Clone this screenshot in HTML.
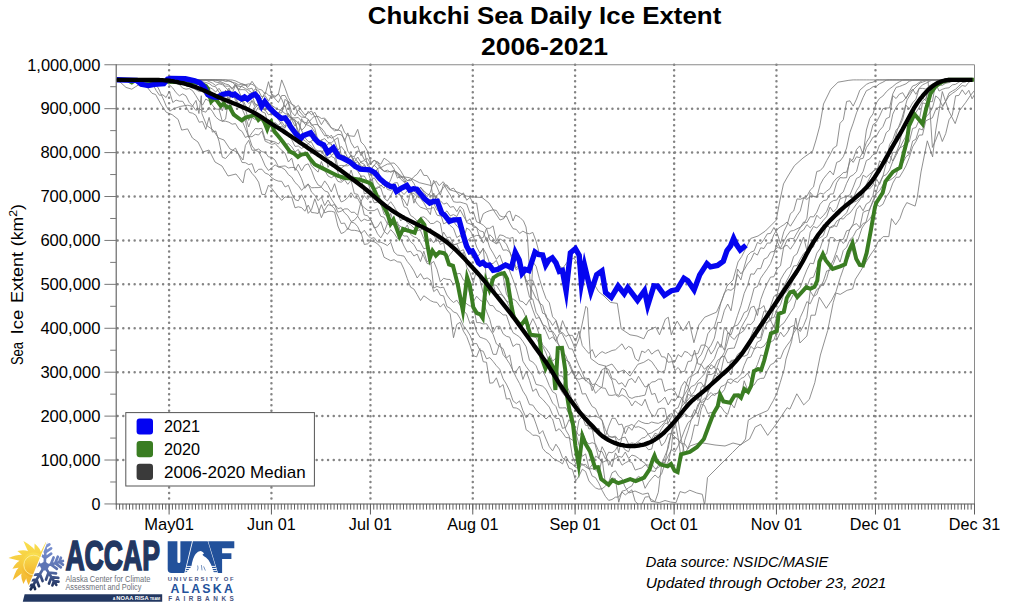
<!DOCTYPE html><html><head><meta charset="utf-8"><title>Chukchi Sea Daily Ice Extent</title>
<style>html,body{margin:0;padding:0;background:#fff}svg{display:block}text{font-family:"Liberation Sans","DejaVu Sans",sans-serif;fill:#000}</style></head><body>
<svg width="1024" height="606" viewBox="0 0 1024 606">
<rect width="1024" height="606" fill="#fff"/>
<defs><clipPath id="pc"><rect x="116.2" y="64.8" width="858.3" height="439.2"/></clipPath></defs>
<path d="M116.2 460.03 H974.5 M116.2 416.11 H974.5 M116.2 372.19 H974.5 M116.2 328.27 H974.5 M116.2 284.35 H974.5 M116.2 240.43 H974.5 M116.2 196.51 H974.5 M116.2 152.59 H974.5 M116.2 108.67 H974.5" stroke="#848484" stroke-width="2.5" stroke-linecap="round" stroke-dasharray="0.01 5.678" stroke-dashoffset="-1.4" fill="none"/>
<path d="M169.10 64.8 V503.9 M271.43 64.8 V503.9 M370.45 64.8 V503.9 M472.78 64.8 V503.9 M575.10 64.8 V503.9 M674.13 64.8 V503.9 M776.45 64.8 V503.9 M875.48 64.8 V503.9" stroke="#848484" stroke-width="2.5" stroke-linecap="round" stroke-dasharray="0.01 5.48" stroke-dashoffset="0" fill="none"/>
<g clip-path="url(#pc)" fill="none" stroke-linejoin="round">
<path d="M116.6 79.9 L120.0 82.0 L126.0 87.4 L131.8 89.2 L135.4 86.8 L140.0 84.0 L147.3 87.4 L152.0 93.3 L155.6 94.5 L161.5 105.2 L166.3 112.3 L172.2 114.7 L178.1 119.4 L181.7 130.1 L187.6 128.9 L192.4 138.0 L198.0 142.0 L203.0 152.0 L209.0 150.0 L215.0 162.0 L222.0 166.0 L228.0 176.0 L236.0 174.0 L243.0 183.0 L245.4 170.7 L248.7 168.5 L252.0 173.4 L255.3 177.0 L258.6 182.1 L261.9 194.4 L265.2 194.5 L268.5 185.1 L271.8 188.4 L275.1 192.8 L278.4 196.6 L281.7 200.4 L285.1 196.9 L288.4 197.4 L291.7 197.0 L295.0 207.8 L298.3 206.8 L301.6 207.6 L304.9 211.2 L308.2 205.1 L311.5 212.5 L314.8 212.8 L318.1 213.5 L321.4 204.7 L324.7 212.9 L328.0 211.4 L331.3 211.3 L334.6 212.1 L337.9 226.0 L341.2 233.6 L344.5 232.1 L347.8 228.4 L351.1 230.3 L354.4 230.3 L357.7 230.9 L361.0 232.2 L364.3 244.5 L367.6 243.8 L370.9 240.9 L374.2 241.8 L377.5 243.8 L380.8 247.4 L384.1 257.3 L387.4 259.0 L390.7 260.7 L394.1 259.7 L397.4 261.8 L400.7 262.2 L404.0 269.3 L407.3 278.7 L410.6 287.2 L413.9 289.0 L417.2 294.7 L420.5 300.6 L423.8 295.8 L427.1 298.1 L430.4 300.6 L433.7 302.0 L437.0 302.4 L440.3 307.1 L443.6 303.7 L446.9 309.9 L450.2 313.9 L453.5 337.7 L456.8 324.4 L460.1 322.3 L463.4 331.1 L466.7 336.5 L470.0 345.4 L473.3 355.7 L476.6 356.9 L479.9 348.5 L483.2 361.7 L486.5 362.3 L489.8 383.2 L493.1 382.8 L496.4 377.8 L499.7 387.4 L503.1 384.6 L506.4 399.1 L509.7 398.5 L513.0 407.7 L516.3 408.0 L519.6 409.7 L522.9 414.9 L526.2 429.8 L529.5 432.0 L532.8 435.3 L536.1 435.2 L539.4 436.6 L542.7 448.4 L546.0 452.3 L549.3 454.1 L552.6 457.9 L555.9 460.1 L559.2 461.5 L562.5 463.9 L565.8 456.1 L569.1 462.2 L572.4 464.0 L575.7 467.5 L579.0 468.4 L582.3 463.9 L585.6 466.9 L588.9 468.9 L592.2 464.7 L595.5 456.2 L598.8 457.9 L602.1 462.5 L605.4 461.0 L608.7 460.3 L612.0 466.9 L615.4 452.9 L618.7 458.5 L622.0 465.2 L625.3 462.9 L628.6 461.2 L631.9 462.6 L635.2 470.1 L638.5 468.9 L641.8 467.9 L645.1 464.9 L648.4 465.1 L651.7 463.7 L655.0 468.6 L658.3 467.6 L661.6 464.9 L664.9 466.7 L668.2 461.9 L671.5 448.1 L674.8 409.3 L678.1 407.7 L681.4 399.0 L684.7 394.4 L688.0 388.7 L691.3 376.6 L694.6 374.3 L697.9 372.0 L701.2 364.5 L704.5 358.9 L707.8 349.9 L711.1 345.2 L714.4 338.1 L717.7 322.4 L721.0 322.6 L724.4 310.3 L727.7 304.0 L731.0 310.8 L734.3 291.8 L737.6 269.1 L740.9 273.9 L744.2 269.8 L747.5 263.9 L750.8 260.1 L754.1 252.9 L757.4 255.1 L760.7 247.8 L764.0 248.5 L767.3 243.0 L770.6 243.1 L773.9 234.5 L777.2 229.3 L780.5 226.8 L783.8 224.8 L787.1 222.0 L790.4 226.2 L793.7 221.0 L797.0 215.5 L800.3 210.9 L803.6 197.8 L806.9 199.4 L810.2 196.4 L813.5 196.5 L816.8 197.4 L820.1 184.9 L823.4 178.8 L826.7 174.7 L830.0 170.9 L833.4 174.9 L836.7 162.4 L840.0 161.0 L843.3 156.7 L846.6 148.0 L849.9 132.4 L853.2 123.2 L856.5 112.8 L859.8 105.3 L863.1 97.4 L866.4 90.7 L869.7 89.2 L873.0 86.7 L876.3 86.3 L879.6 83.7 L882.9 82.2 L886.2 80.2 L889.5 79.9 L892.8 79.9 L896.1 79.9 L899.4 79.9 L902.7 79.9 L906.0 79.9 L909.3 79.9 L912.6 79.9 L915.9 79.9 L919.2 79.9 L922.5 79.9 L925.8 79.9 L929.1 79.9 L932.4 79.9 L935.7 79.9 L939.0 79.9 L942.3 79.9 L945.7 79.9 L949.0 79.9 L952.3 79.9 L955.6 79.9 L958.9 79.9 L962.2 79.9 L965.5 79.9 L968.8 79.9 L972.1 79.9 L975.4 79.9" stroke="#7c7c7c" stroke-width="0.85"/>
<path d="M116.6 79.9 L119.9 79.9 L123.2 79.9 L126.5 79.9 L129.8 79.9 L133.1 79.9 L136.4 79.9 L139.7 79.9 L143.0 79.9 L146.3 79.9 L149.6 81.6 L152.9 84.3 L156.2 90.5 L159.5 95.3 L162.8 94.8 L166.1 97.5 L169.4 91.3 L172.8 102.5 L176.1 100.1 L179.4 101.2 L182.7 101.3 L186.0 106.5 L189.3 112.5 L192.6 113.2 L195.9 115.3 L199.2 122.3 L202.5 121.5 L205.8 129.4 L209.1 117.4 L212.4 132.1 L215.7 131.0 L219.0 141.2 L222.3 157.2 L225.6 158.5 L228.9 154.8 L232.2 150.6 L235.5 148.1 L238.8 155.2 L242.1 162.5 L245.4 162.7 L248.7 164.6 L252.0 163.7 L255.3 172.9 L258.6 169.3 L261.9 169.2 L265.2 173.1 L268.5 174.4 L271.8 177.8 L275.1 179.9 L278.4 181.1 L281.7 181.3 L285.1 187.0 L288.4 185.3 L291.7 193.8 L295.0 199.6 L298.3 200.8 L301.6 194.8 L304.9 201.2 L308.2 213.4 L311.5 209.7 L314.8 198.8 L318.1 208.0 L321.4 217.7 L324.7 210.1 L328.0 204.7 L331.3 205.4 L334.6 208.7 L337.9 216.2 L341.2 223.6 L344.5 223.0 L347.8 229.6 L351.1 222.1 L354.4 223.0 L357.7 226.7 L361.0 233.6 L364.3 230.3 L367.6 235.1 L370.9 238.4 L374.2 237.7 L377.5 242.0 L380.8 242.2 L384.1 243.7 L387.4 245.6 L390.7 242.3 L394.1 252.1 L397.4 255.0 L400.7 255.5 L404.0 256.1 L407.3 261.5 L410.6 265.6 L413.9 270.9 L417.2 278.0 L420.5 273.6 L423.8 279.1 L427.1 277.9 L430.4 280.0 L433.7 291.6 L437.0 289.0 L440.3 295.2 L443.6 295.9 L446.9 306.5 L450.2 308.3 L453.5 312.0 L456.8 313.1 L460.1 318.4 L463.4 325.8 L466.7 329.8 L470.0 335.3 L473.3 343.8 L476.6 343.5 L479.9 350.3 L483.2 351.2 L486.5 358.8 L489.8 357.6 L493.1 361.4 L496.4 365.7 L499.7 369.2 L503.1 378.8 L506.4 384.1 L509.7 391.0 L513.0 400.8 L516.3 403.5 L519.6 400.9 L522.9 410.6 L526.2 417.7 L529.5 413.4 L532.8 415.1 L536.1 424.1 L539.4 434.0 L542.7 430.6 L546.0 439.0 L549.3 446.6 L552.6 450.9 L555.9 444.2 L559.2 449.0 L562.5 457.7 L565.8 460.4 L569.1 468.3 L572.4 469.4 L575.7 481.0 L579.0 476.0 L582.3 469.2 L585.6 471.5 L588.9 480.9 L592.2 484.8 L595.5 487.9 L598.8 489.2 L602.1 488.7 L605.4 486.2 L608.7 482.1 L612.0 472.8 L615.4 470.8 L618.7 476.2 L622.0 478.6 L624.6 486.0 L628.8 493.0 L635.0 491.0 L642.7 494.3 L648.2 493.0 L651.0 501.3 L659.3 502.7 L665.0 500.5 L670.4 502.0 L676.0 502.7 L680.0 491.6 L685.0 493.0 L689.8 490.2 L696.8 493.0 L702.3 494.3 L704.4 504.0 L705.0 502.0 L707.5 477.5 L715.0 470.0 L725.0 460.0 L732.5 452.5 L740.0 445.0 L749.6 439.0 L755.2 427.1 L760.7 424.3 L767.7 435.4 L776.0 424.3 L787.1 407.7 L789.9 409.1 L796.8 393.8 L803.7 404.9 L809.3 399.4 L814.8 382.7 L820.4 355.0 L827.7 330.5 L833.2 302.7 L836.0 293.0 L840.2 294.4 L847.1 290.3 L852.6 288.9 L855.4 279.2 L860.0 272.0 L866.0 262.0 L871.0 254.0 L875.6 247.7 L877.7 242.2 L883.2 236.6 L888.8 236.6 L891.5 218.6 L895.7 224.8 L899.9 218.6 L903.3 208.9 L906.8 202.6 L915.1 206.1 L917.2 197.8 L921.0 172.0 L927.3 140.8 L932.6 156.9 L935.8 130.1 L942.3 91.5 L944.4 97.9 L948.7 110.8 L955.2 123.6 L959.4 110.8 L965.9 102.2 L970.2 95.8 L974.5 90.4" stroke="#7c7c7c" stroke-width="0.85"/>
<path d="M116.6 79.9 L119.9 79.9 L123.2 79.9 L126.5 79.9 L129.8 79.9 L133.1 79.9 L136.4 79.9 L139.7 79.9 L143.0 79.9 L146.3 79.9 L150.0 80.0 L158.0 87.4 L163.9 100.4 L166.3 106.4 L169.8 111.1 L173.4 108.8 L180.5 106.4 L187.6 105.2 L192.4 106.4 L196.0 100.4 L198.9 113.5 L201.3 95.7 L201.9 113.5 L206.6 125.4 L213.0 130.0 L218.5 138.0 L224.0 140.0 L230.0 149.0 L237.0 152.0 L243.0 160.0 L245.4 145.4 L248.7 140.3 L252.0 150.2 L255.3 150.3 L258.6 151.7 L261.9 158.1 L265.2 165.9 L268.5 170.5 L271.8 167.7 L275.1 164.9 L278.4 167.1 L281.7 167.6 L285.1 169.8 L288.4 174.6 L291.7 177.2 L295.0 182.5 L298.3 185.5 L301.6 190.4 L304.9 186.6 L308.2 183.9 L311.5 192.1 L314.8 195.2 L318.1 200.7 L321.4 197.1 L324.7 205.6 L328.0 200.0 L331.3 205.7 L334.6 204.5 L337.9 212.2 L341.2 211.2 L344.5 208.9 L347.8 208.9 L351.1 212.4 L354.4 212.2 L357.7 215.5 L361.0 201.4 L364.3 215.0 L367.6 215.7 L370.9 220.1 L374.2 228.0 L377.5 226.8 L380.8 221.6 L384.1 231.1 L387.4 234.3 L390.7 229.6 L394.1 233.3 L397.4 238.4 L400.7 238.7 L404.0 246.1 L407.3 252.1 L410.6 251.3 L413.9 256.0 L417.2 254.1 L420.5 261.6 L423.8 251.2 L427.1 262.1 L430.4 258.5 L433.7 288.1 L437.0 286.4 L440.3 287.7 L443.6 287.2 L446.9 295.0 L450.2 299.5 L453.5 302.5 L456.8 300.2 L460.1 305.1 L463.4 310.4 L466.7 314.1 L470.0 323.7 L473.3 320.0 L476.6 331.7 L479.9 337.2 L483.2 338.3 L486.5 339.6 L489.8 344.0 L493.1 354.3 L496.4 354.4 L499.7 343.0 L503.1 354.5 L506.4 358.8 L509.7 363.9 L513.0 370.7 L516.3 377.6 L519.6 383.6 L522.9 391.1 L526.2 396.2 L529.5 404.6 L532.8 405.1 L536.1 409.9 L539.4 413.5 L542.7 415.5 L546.0 419.0 L549.3 415.9 L552.6 419.0 L555.9 431.1 L559.2 428.7 L562.5 432.7 L565.8 437.5 L569.1 437.8 L572.4 440.1 L575.7 438.7 L579.0 420.1 L582.3 416.3 L585.6 425.4 L588.9 425.6 L592.2 430.1 L595.5 432.1 L598.8 428.1 L602.1 438.4 L605.4 437.5 L608.7 436.7 L612.0 437.0 L615.4 436.1 L618.7 440.2 L622.0 437.8 L625.3 437.1 L628.6 444.1 L631.9 442.9 L635.2 443.7 L638.5 441.2 L641.8 438.2 L645.1 437.3 L648.4 433.8 L651.7 432.9 L655.0 430.5 L658.3 429.0 L661.6 425.5 L664.9 421.9 L668.2 415.7 L671.5 413.4 L674.8 419.4 L678.1 415.5 L681.4 406.9 L684.7 402.9 L688.0 391.9 L691.3 386.5 L694.6 385.2 L697.9 381.0 L701.2 377.6 L704.5 373.8 L707.8 366.2 L711.1 363.1 L714.4 358.6 L717.7 349.2 L721.0 344.2 L724.4 350.3 L727.7 332.7 L731.0 334.8 L734.3 325.7 L737.6 315.3 L740.9 305.7 L744.2 293.3 L747.5 285.6 L750.8 273.9 L754.1 274.2 L757.4 268.6 L760.7 268.7 L764.0 259.2 L767.3 257.5 L770.6 252.1 L773.9 251.4 L777.2 247.6 L780.5 248.1 L783.8 241.3 L787.1 235.5 L790.4 231.1 L793.7 230.5 L797.0 228.8 L800.3 227.1 L803.6 224.4 L806.9 218.2 L810.2 192.3 L813.5 196.3 L816.8 196.5 L820.1 193.1 L823.4 194.0 L826.7 191.1 L830.0 188.6 L833.4 182.0 L836.7 178.2 L840.0 176.0 L843.3 172.6 L846.6 172.2 L849.9 161.6 L853.2 159.1 L856.5 149.5 L859.8 145.9 L863.1 154.0 L866.4 130.0 L869.7 118.6 L873.0 113.8 L876.3 103.0 L879.6 98.3 L882.9 96.0 L886.2 91.9 L889.5 88.9 L892.8 86.5 L896.1 83.7 L899.4 81.8 L902.7 80.1 L906.0 79.9 L909.3 79.9 L912.6 79.9 L915.9 79.9 L919.2 79.9 L922.5 79.9 L925.8 79.9 L929.1 79.9 L932.4 79.9 L935.7 79.9 L939.0 79.9 L942.3 79.9 L945.7 79.9 L949.0 79.9 L952.3 79.9 L955.6 79.9 L958.9 79.9 L962.2 79.9 L965.5 79.9 L968.8 79.9 L972.1 79.9 L975.4 79.9" stroke="#7c7c7c" stroke-width="0.85"/>
<path d="M116.6 79.9 L119.9 79.9 L123.2 79.9 L126.5 79.9 L129.8 79.9 L133.1 79.9 L136.4 79.9 L139.7 79.9 L143.0 79.9 L146.3 79.9 L149.6 79.9 L152.9 79.9 L156.2 79.9 L159.5 79.9 L162.8 79.9 L166.1 81.6 L169.4 84.8 L172.8 88.0 L176.1 92.7 L179.4 95.8 L182.7 93.9 L186.0 95.9 L189.3 102.5 L192.6 105.9 L195.9 110.4 L199.2 108.5 L202.5 111.1 L205.8 112.2 L209.1 107.2 L212.4 111.4 L215.7 117.0 L219.0 119.8 L222.3 121.2 L225.6 121.2 L228.9 122.2 L232.2 124.2 L235.5 123.6 L238.8 129.2 L242.1 131.5 L245.4 137.5 L248.7 135.8 L252.0 146.0 L255.3 150.1 L258.6 149.0 L261.9 151.7 L265.2 152.4 L268.5 156.9 L271.8 157.3 L275.1 160.1 L278.4 166.7 L281.7 166.3 L285.1 165.9 L288.4 168.0 L291.7 167.4 L295.0 167.6 L298.3 171.9 L301.6 178.8 L304.9 188.3 L308.2 184.4 L311.5 187.8 L314.8 187.6 L318.1 187.6 L321.4 187.2 L324.7 190.9 L328.0 192.1 L331.3 199.0 L334.6 204.0 L337.9 208.6 L341.2 207.8 L344.5 212.8 L347.8 215.8 L351.1 221.5 L354.4 220.1 L357.7 216.2 L361.0 221.4 L364.3 219.2 L367.6 220.5 L370.9 220.0 L374.2 226.6 L377.5 233.8 L380.8 237.9 L384.1 232.2 L387.4 223.6 L390.7 213.4 L394.1 223.5 L397.4 221.9 L400.7 233.1 L404.0 236.1 L407.3 236.0 L410.6 241.8 L413.9 244.6 L417.2 250.6 L420.5 251.1 L423.8 256.4 L427.1 263.5 L430.4 264.1 L433.7 261.4 L437.0 269.4 L440.3 281.8 L443.6 278.3 L446.9 279.3 L450.2 279.5 L453.5 284.6 L456.8 281.4 L460.1 294.6 L463.4 300.1 L466.7 303.9 L470.0 306.1 L473.3 305.7 L476.6 322.6 L479.9 322.6 L483.2 324.0 L486.5 323.7 L489.8 328.9 L493.1 334.4 L496.4 343.9 L499.7 346.5 L503.1 348.7 L506.4 358.0 L509.7 355.1 L513.0 372.1 L516.3 371.1 L519.6 366.0 L522.9 379.4 L526.2 371.1 L529.5 380.3 L532.8 391.4 L536.1 388.8 L539.4 396.4 L542.7 399.4 L546.0 403.2 L549.3 407.1 L552.6 414.7 L555.9 418.4 L559.2 418.5 L562.5 428.4 L565.8 427.3 L569.1 419.7 L572.4 424.5 L575.7 430.6 L579.0 435.8 L582.3 431.8 L585.6 440.9 L588.9 443.9 L592.2 442.7 L595.5 444.0 L598.8 451.4 L602.1 451.6 L605.4 458.9 L608.7 452.2 L612.0 452.8 L615.4 450.3 L618.7 444.1 L622.0 445.8 L625.3 450.0 L628.6 451.8 L631.9 443.4 L635.2 445.5 L638.5 442.6 L641.8 443.4 L645.1 445.6 L648.4 449.7 L651.7 449.1 L655.0 435.4 L658.3 435.9 L661.6 445.9 L664.9 442.1 L668.2 434.2 L671.5 433.3 L674.8 437.0 L678.1 439.6 L681.4 443.7 L684.7 443.8 L688.0 448.9 L690.0 446.0 L700.0 442.5 L715.0 445.0 L725.0 446.0 L733.0 443.0 L741.0 445.0 L745.5 439.0 L748.3 420.2 L755.2 416.0 L767.7 410.5 L773.2 400.8 L776.7 393.8 L780.2 382.7 L784.3 368.9 L786.0 359.0 L791.6 341.6 L795.8 318.0 L799.9 343.0 L806.9 336.0 L811.0 315.2 L815.2 315.2 L819.3 297.2 L826.3 308.3 L831.8 300.0 L836.0 291.6 L840.2 277.8 L845.0 264.0 L849.0 257.0 L853.0 246.0 L858.0 240.0 L862.0 228.0 L866.0 222.0 L870.0 208.0 L874.0 200.0 L878.0 186.0 L883.0 176.0 L887.0 160.0 L892.0 150.0 L897.0 131.0 L902.0 118.0 L907.0 100.0 L913.0 90.0 L920.0 83.0 L928.0 80.2 L932.4 147.4 L935.7 140.2 L939.0 131.3 L942.3 141.5 L945.7 133.7 L949.0 119.8 L952.3 115.0 L955.6 95.8 L958.9 95.4 L962.2 89.8 L965.5 94.6 L968.8 90.3 L972.1 98.8 L975.4 93.0" stroke="#7c7c7c" stroke-width="0.85"/>
<path d="M116.6 79.9 L119.9 79.9 L123.2 79.9 L126.5 79.9 L129.8 79.9 L133.1 79.9 L136.4 79.9 L139.7 79.9 L143.0 79.9 L146.3 79.9 L149.6 79.9 L152.9 79.9 L156.2 79.9 L159.5 79.9 L162.8 79.9 L166.1 79.9 L169.4 79.9 L172.8 80.6 L176.1 83.1 L179.4 84.6 L182.7 88.1 L186.0 89.2 L189.3 88.6 L192.6 90.7 L195.9 95.7 L199.2 101.1 L202.5 105.1 L205.8 99.0 L209.1 101.1 L212.4 105.2 L215.7 109.0 L219.0 109.3 L222.3 121.4 L225.6 119.1 L228.9 96.9 L232.2 108.6 L235.5 116.9 L238.8 118.9 L242.1 120.7 L245.4 128.7 L248.7 136.7 L252.0 136.7 L255.3 134.3 L258.6 135.0 L261.9 131.1 L265.2 141.2 L268.5 142.7 L271.8 144.4 L275.1 143.4 L278.4 147.1 L281.7 150.2 L285.1 153.2 L288.4 162.0 L291.7 158.1 L295.0 170.5 L298.3 164.2 L301.6 170.8 L304.9 165.2 L308.2 163.8 L311.5 170.3 L314.8 179.3 L318.1 185.0 L321.4 186.7 L324.7 180.9 L328.0 185.5 L331.3 191.9 L334.6 183.7 L337.9 194.9 L341.2 202.0 L344.5 200.5 L347.8 197.5 L351.1 192.7 L354.4 197.6 L357.7 198.4 L361.0 204.8 L364.3 207.6 L367.6 210.3 L370.9 210.7 L374.2 210.6 L377.5 208.6 L380.8 216.3 L384.1 217.3 L387.4 223.9 L390.7 225.9 L394.1 223.3 L397.4 229.5 L400.7 226.1 L404.0 230.0 L407.3 224.9 L410.6 234.4 L413.9 236.9 L417.2 238.1 L420.5 242.4 L423.8 248.7 L427.1 248.0 L430.4 250.2 L433.7 253.6 L437.0 252.4 L440.3 252.9 L443.6 254.1 L446.9 257.4 L450.2 266.2 L453.5 268.6 L456.8 273.9 L460.1 273.4 L463.4 280.1 L466.7 282.3 L470.0 294.9 L473.3 301.8 L476.6 296.2 L479.9 299.9 L483.2 302.1 L486.5 311.3 L489.8 319.4 L493.1 332.5 L496.4 326.4 L499.7 326.2 L503.1 333.8 L506.4 336.3 L509.7 337.2 L513.0 346.5 L516.3 344.1 L519.6 344.5 L522.9 361.2 L526.2 366.6 L529.5 371.1 L532.8 375.4 L536.1 384.4 L539.4 385.2 L542.7 386.2 L546.0 389.4 L549.3 395.7 L552.6 403.1 L555.9 406.4 L559.2 415.6 L562.5 416.9 L565.8 430.0 L569.1 435.7 L572.4 456.1 L575.7 463.9 L579.0 460.2 L582.3 465.2 L585.6 464.3 L588.9 469.0 L592.2 468.6 L595.5 469.8 L598.8 473.5 L602.1 458.7 L605.4 483.5 L608.7 482.9 L612.0 477.9 L615.4 478.7 L618.7 502.2 L622.0 491.2 L625.3 490.3 L628.6 487.7 L631.9 485.9 L635.2 479.4 L638.5 476.4 L641.8 478.1 L645.1 488.3 L648.4 482.7 L651.7 478.5 L655.0 475.0 L658.3 477.9 L661.6 473.8 L664.9 463.6 L668.2 444.6 L671.5 432.6 L674.8 423.4 L678.1 420.0 L681.4 440.4 L684.7 454.1 L688.0 448.2 L691.3 439.7 L694.6 424.9 L697.9 425.7 L701.2 409.2 L704.5 401.1 L707.8 393.0 L711.1 385.0 L714.4 376.5 L717.7 365.7 L721.0 356.8 L724.4 356.5 L727.7 348.9 L731.0 348.3 L734.3 348.1 L737.6 338.8 L740.9 328.1 L744.2 322.0 L747.5 316.4 L750.8 307.5 L754.1 306.2 L757.4 315.5 L760.7 299.7 L764.0 290.5 L767.3 283.2 L770.6 277.1 L773.9 276.7 L777.2 268.8 L780.5 265.8 L783.8 246.4 L787.1 245.2 L790.4 249.2 L793.7 244.3 L797.0 238.8 L800.3 232.1 L803.6 230.0 L806.9 224.6 L810.2 227.8 L813.5 224.1 L816.8 215.2 L820.1 218.7 L823.4 215.6 L826.7 211.3 L830.0 202.8 L833.4 200.6 L836.7 200.1 L840.0 194.6 L843.3 191.9 L846.6 183.3 L849.9 176.7 L853.2 174.9 L856.5 171.6 L859.8 159.0 L863.1 158.3 L866.4 147.6 L869.7 142.8 L873.0 137.2 L876.3 136.3 L879.6 130.3 L882.9 126.7 L886.2 118.6 L889.5 117.2 L892.8 95.7 L896.1 98.5 L899.4 94.1 L902.7 92.7 L906.0 98.5 L909.3 91.6 L912.6 86.0 L915.9 84.8 L919.2 82.5 L922.5 80.6 L925.8 79.9 L929.1 79.9 L932.4 79.9 L935.7 79.9 L939.0 79.9 L942.3 79.9 L945.7 79.9 L949.0 79.9 L952.3 79.9 L955.6 79.9 L958.9 79.9 L962.2 79.9 L965.5 79.9 L968.8 79.9 L972.1 79.9 L975.4 79.9" stroke="#7c7c7c" stroke-width="0.85"/>
<path d="M116.6 79.9 L119.9 79.9 L123.2 79.9 L126.5 79.9 L129.8 79.9 L133.1 79.9 L136.4 79.9 L139.7 79.9 L143.0 79.9 L146.3 79.9 L149.6 79.9 L152.9 79.9 L156.2 79.9 L159.5 79.9 L162.8 79.9 L166.1 79.9 L169.4 79.9 L172.8 79.9 L176.1 79.9 L179.4 80.3 L182.7 83.3 L186.0 85.5 L189.3 84.8 L192.6 88.0 L195.9 89.7 L199.2 91.6 L202.5 91.1 L205.8 95.5 L209.1 94.4 L212.4 99.1 L215.7 101.4 L219.0 96.8 L222.3 102.1 L225.6 90.0 L228.9 103.3 L232.2 110.1 L235.5 114.1 L238.8 118.5 L242.1 121.9 L245.4 120.4 L248.7 137.4 L252.0 132.8 L255.3 128.5 L258.6 128.8 L261.9 128.3 L265.2 139.4 L268.5 140.2 L271.8 141.3 L275.1 142.0 L278.4 144.0 L281.7 139.6 L285.1 144.8 L288.4 143.7 L291.7 146.7 L295.0 151.9 L298.3 149.5 L301.6 156.7 L304.9 152.6 L308.2 157.2 L311.5 165.8 L314.8 169.0 L318.1 172.1 L321.4 161.5 L324.7 170.5 L328.0 176.0 L331.3 177.7 L334.6 175.8 L337.9 181.4 L341.2 182.3 L344.5 179.8 L347.8 184.3 L351.1 180.3 L354.4 193.6 L357.7 194.4 L361.0 201.4 L364.3 195.6 L367.6 199.5 L370.9 194.5 L374.2 202.8 L377.5 202.3 L380.8 204.0 L384.1 214.2 L387.4 216.2 L390.7 218.1 L394.1 226.4 L397.4 224.3 L400.7 226.4 L404.0 231.1 L407.3 232.1 L410.6 230.1 L413.9 231.5 L417.2 226.4 L420.5 230.5 L423.8 238.7 L427.1 241.4 L430.4 238.1 L433.7 243.0 L437.0 236.8 L440.3 244.5 L443.6 242.6 L446.9 258.6 L450.2 254.4 L453.5 250.2 L456.8 248.5 L460.1 255.4 L463.4 252.3 L466.7 267.0 L470.0 272.7 L473.3 282.9 L476.6 269.6 L479.9 279.4 L483.2 293.1 L486.5 299.5 L489.8 305.4 L493.1 305.7 L496.4 310.4 L499.7 311.8 L503.1 314.9 L506.4 315.0 L509.7 325.1 L513.0 332.7 L516.3 334.8 L519.6 337.0 L522.9 341.4 L526.2 346.8 L529.5 360.4 L532.8 362.0 L536.1 365.8 L539.4 374.1 L542.7 371.0 L546.0 377.3 L549.3 385.7 L552.6 391.8 L555.9 393.8 L559.2 407.9 L562.5 407.9 L565.8 407.8 L569.1 413.9 L572.4 412.7 L575.7 432.2 L579.0 445.0 L582.3 456.3 L585.6 453.9 L588.9 467.7 L592.2 476.1 L595.5 477.6 L598.8 483.1 L602.1 490.3 L605.4 496.4 L608.7 500.4 L612.0 499.5 L615.4 497.2 L618.7 497.0 L622.0 492.1 L625.3 494.9 L628.6 492.3 L631.9 489.8 L635.2 501.4 L638.5 504.4 L641.8 504.4 L645.1 497.1 L648.4 496.7 L651.7 499.6 L655.0 501.7 L658.3 492.3 L661.6 464.6 L664.9 455.8 L668.2 448.3 L671.5 431.5 L674.8 420.3 L678.1 437.4 L681.4 460.6 L684.7 440.4 L688.0 430.5 L691.3 419.5 L694.6 413.8 L697.9 407.4 L701.2 397.9 L704.5 385.6 L707.8 370.4 L711.1 364.7 L714.4 367.4 L717.7 360.2 L721.0 358.1 L724.4 352.3 L727.7 341.2 L731.0 328.7 L734.3 326.2 L737.6 325.1 L740.9 319.9 L744.2 312.6 L747.5 310.8 L750.8 300.6 L754.1 288.1 L757.4 286.6 L760.7 278.2 L764.0 273.4 L767.3 268.8 L770.6 263.5 L773.9 254.4 L777.2 241.5 L780.5 249.1 L783.8 247.5 L787.1 239.8 L790.4 238.4 L793.7 238.7 L797.0 232.9 L800.3 227.6 L803.6 222.0 L806.9 222.5 L810.2 216.7 L813.5 216.9 L816.8 212.2 L820.1 204.2 L823.4 200.6 L826.7 200.0 L830.0 194.2 L833.4 193.8 L836.7 182.6 L840.0 177.6 L843.3 177.9 L846.6 177.7 L849.9 158.3 L853.2 162.4 L856.5 156.8 L859.8 157.7 L863.1 151.8 L866.4 142.3 L869.7 137.0 L873.0 124.7 L876.3 122.3 L879.6 116.1 L882.9 108.7 L886.2 108.0 L889.5 107.9 L892.8 93.8 L896.1 87.4 L899.4 86.5 L902.7 85.2 L906.0 83.8 L909.3 81.2 L912.6 80.3 L915.9 79.9 L919.2 79.9 L922.5 79.9 L925.8 79.9 L929.1 79.9 L932.4 79.9 L935.7 79.9 L939.0 79.9 L942.3 79.9 L945.7 79.9 L949.0 79.9 L952.3 79.9 L955.6 79.9 L958.9 79.9 L962.2 79.9 L965.5 79.9 L968.8 79.9 L972.1 79.9 L975.4 79.9" stroke="#7c7c7c" stroke-width="0.85"/>
<path d="M116.6 79.9 L119.9 79.9 L123.2 79.9 L126.5 79.9 L129.8 79.9 L133.1 79.9 L136.4 79.9 L139.7 79.9 L143.0 79.9 L146.3 79.9 L149.6 79.9 L152.9 79.9 L156.2 79.9 L159.5 79.9 L162.8 79.9 L166.1 79.9 L169.4 79.9 L172.8 79.9 L176.1 79.9 L179.4 79.9 L182.7 79.9 L186.0 79.9 L189.3 81.5 L192.6 84.4 L195.9 87.4 L199.2 90.5 L202.5 89.3 L205.8 95.3 L209.1 99.2 L212.4 98.0 L215.7 97.0 L219.0 102.5 L222.3 110.8 L225.6 100.8 L228.9 100.6 L232.2 93.3 L235.5 100.3 L238.8 106.2 L242.1 108.9 L245.4 116.2 L248.7 127.0 L252.0 117.5 L255.3 119.7 L258.6 114.6 L261.9 121.8 L265.2 124.7 L268.5 124.3 L271.8 127.4 L275.1 124.2 L278.4 127.5 L281.7 126.0 L285.1 129.9 L288.4 133.8 L291.7 139.6 L295.0 146.4 L298.3 146.0 L301.6 148.5 L304.9 146.3 L308.2 143.7 L311.5 146.4 L314.8 150.7 L318.1 150.9 L321.4 150.8 L324.7 155.8 L328.0 158.2 L331.3 156.4 L334.6 158.1 L337.9 172.3 L341.2 180.5 L344.5 178.4 L347.8 179.8 L351.1 170.1 L354.4 180.9 L357.7 180.8 L361.0 175.8 L364.3 193.8 L367.6 192.8 L370.9 195.2 L374.2 194.4 L377.5 197.1 L380.8 204.5 L384.1 203.1 L387.4 205.7 L390.7 201.7 L394.1 206.5 L397.4 212.5 L400.7 221.0 L404.0 217.4 L407.3 222.8 L410.6 224.7 L413.9 227.9 L417.2 230.5 L420.5 230.0 L423.8 228.8 L427.1 231.6 L430.4 228.1 L433.7 235.1 L437.0 240.3 L440.3 242.1 L443.6 232.1 L446.9 237.5 L450.2 237.2 L453.5 244.9 L456.8 244.1 L460.1 251.3 L463.4 249.7 L466.7 258.4 L470.0 264.2 L473.3 271.0 L476.6 274.9 L479.9 275.4 L483.2 280.0 L486.5 281.3 L489.8 288.6 L493.1 284.1 L496.4 295.4 L499.7 294.2 L503.1 295.6 L506.4 300.6 L509.7 307.8 L513.0 317.4 L516.3 320.5 L519.6 325.7 L522.9 329.9 L526.2 331.6 L529.5 342.1 L532.8 344.1 L536.1 345.2 L539.4 349.8 L542.7 357.6 L546.0 362.0 L549.3 364.9 L552.6 375.8 L555.9 381.2 L559.2 387.4 L562.5 392.9 L565.8 397.0 L569.1 400.6 L572.4 402.0 L575.7 403.3 L579.0 410.5 L582.3 412.5 L585.6 415.1 L588.9 416.8 L592.2 416.5 L595.5 416.2 L598.8 417.5 L602.1 420.5 L605.4 436.7 L608.7 426.2 L612.0 418.2 L615.4 418.4 L618.7 424.8 L622.0 424.1 L625.3 433.8 L628.6 426.8 L631.9 430.3 L635.2 424.5 L638.5 420.5 L641.8 422.3 L645.1 423.4 L648.4 423.6 L651.7 422.0 L655.0 422.9 L658.3 423.4 L661.6 421.8 L664.9 420.6 L668.2 417.5 L671.5 424.6 L674.8 422.5 L678.1 420.0 L681.4 416.1 L684.7 409.5 L688.0 394.2 L691.3 396.1 L694.6 395.2 L697.9 400.7 L701.2 387.3 L704.5 384.8 L707.8 392.3 L711.1 383.4 L714.4 375.1 L717.7 376.7 L721.0 374.3 L724.4 371.5 L727.7 369.5 L731.0 374.9 L734.3 360.7 L737.6 354.4 L740.9 351.9 L744.2 349.9 L747.5 346.9 L750.8 336.7 L754.1 328.3 L757.4 327.0 L760.7 323.0 L764.0 311.0 L767.3 311.1 L770.6 321.0 L773.9 308.6 L777.2 294.6 L780.5 292.6 L783.8 286.6 L787.1 280.0 L790.4 273.8 L793.7 265.9 L797.0 265.6 L800.3 259.1 L803.6 253.6 L806.9 250.8 L810.2 249.2 L813.5 247.0 L816.8 234.7 L820.1 232.9 L823.4 224.7 L826.7 226.8 L830.0 222.7 L833.4 219.0 L836.7 216.4 L840.0 214.0 L843.3 207.1 L846.6 196.4 L849.9 196.9 L853.2 198.1 L856.5 190.7 L859.8 185.8 L863.1 175.2 L866.4 177.3 L869.7 174.2 L873.0 171.6 L876.3 168.8 L879.6 168.4 L882.9 164.6 L886.2 163.2 L889.5 144.6 L892.8 139.7 L896.1 130.1 L899.4 126.7 L902.7 119.3 L906.0 105.2 L909.3 108.9 L912.6 102.8 L915.9 99.2 L919.2 88.4 L922.5 88.4 L925.8 89.0 L929.1 86.2 L932.4 84.0 L935.7 82.7 L939.0 81.9 L942.3 80.6 L945.7 79.9 L949.0 79.9 L952.3 79.9 L955.6 79.9 L958.9 79.9 L962.2 79.9 L965.5 79.9 L968.8 79.9 L972.1 79.9 L975.4 79.9" stroke="#7c7c7c" stroke-width="0.85"/>
<path d="M116.6 79.9 L119.9 79.9 L123.2 79.9 L126.5 79.9 L129.8 79.9 L133.1 79.9 L136.4 79.9 L139.7 79.9 L143.0 79.9 L146.3 79.9 L149.6 79.9 L152.9 79.9 L156.2 79.9 L159.5 79.9 L162.8 79.9 L166.1 79.9 L169.4 79.9 L172.8 79.9 L176.1 79.9 L179.4 79.9 L182.7 79.9 L186.0 79.9 L189.3 79.9 L192.6 79.9 L195.9 81.2 L199.2 81.8 L202.5 84.2 L205.8 86.8 L209.1 87.3 L212.4 89.0 L215.7 92.0 L219.0 88.3 L222.3 93.4 L225.6 95.1 L228.9 90.1 L232.2 95.9 L235.5 98.1 L238.8 104.3 L242.1 100.4 L245.4 109.3 L248.7 120.4 L252.0 114.3 L255.3 112.0 L258.6 106.8 L261.9 106.8 L265.2 110.1 L268.5 114.8 L271.8 113.6 L275.1 114.1 L278.4 119.8 L281.7 124.4 L285.1 128.1 L288.4 113.4 L291.7 119.5 L295.0 126.2 L298.3 121.5 L301.6 130.4 L304.9 137.7 L308.2 141.5 L311.5 142.2 L314.8 148.7 L318.1 151.4 L321.4 151.8 L324.7 150.1 L328.0 167.4 L331.3 161.3 L334.6 164.4 L337.9 166.1 L341.2 165.4 L344.5 165.8 L347.8 165.8 L351.1 163.5 L354.4 167.1 L357.7 171.2 L361.0 176.2 L364.3 176.0 L367.6 181.7 L370.9 191.7 L374.2 191.1 L377.5 186.8 L380.8 188.0 L384.1 198.0 L387.4 201.0 L390.7 195.9 L394.1 188.6 L397.4 193.6 L400.7 195.5 L404.0 206.6 L407.3 208.2 L410.6 215.5 L413.9 217.6 L417.2 221.2 L420.5 217.4 L423.8 216.8 L427.1 219.5 L430.4 223.6 L433.7 223.4 L437.0 220.9 L440.3 223.1 L443.6 240.6 L446.9 238.3 L450.2 241.6 L453.5 245.0 L456.8 243.8 L460.1 242.6 L463.4 241.5 L466.7 245.5 L470.0 253.2 L473.3 257.9 L476.6 257.4 L479.9 253.9 L483.2 248.2 L486.5 279.0 L489.8 278.0 L493.1 284.9 L496.4 285.3 L499.7 290.7 L503.1 296.5 L506.4 301.2 L509.7 302.4 L513.0 310.3 L516.3 318.5 L519.6 324.2 L522.9 329.5 L526.2 334.9 L529.5 336.7 L532.8 336.8 L536.1 337.4 L539.4 344.8 L542.7 346.3 L546.0 353.0 L549.3 362.6 L552.6 363.6 L555.9 368.0 L559.2 375.7 L562.5 376.2 L565.8 383.4 L569.1 390.9 L572.4 401.3 L575.7 400.9 L579.0 407.2 L582.3 415.9 L585.6 419.1 L588.9 429.0 L592.2 428.4 L595.5 446.0 L598.8 458.5 L602.1 446.7 L605.4 453.0 L608.7 465.3 L612.0 459.8 L615.4 458.7 L618.7 456.3 L622.0 457.3 L625.3 452.0 L628.6 458.4 L631.9 455.1 L635.2 456.0 L638.5 458.3 L641.8 461.1 L645.1 463.3 L648.4 468.3 L651.7 470.9 L655.0 471.5 L658.3 465.3 L661.6 462.3 L664.9 462.4 L668.2 455.9 L671.5 449.4 L674.8 452.1 L678.1 445.9 L681.4 438.5 L684.7 429.9 L688.0 422.7 L691.3 419.7 L694.6 414.7 L697.9 404.4 L701.2 401.4 L704.5 398.2 L707.8 399.7 L711.1 395.8 L714.4 393.8 L717.7 393.3 L721.0 386.6 L724.4 385.2 L727.7 381.8 L731.0 383.7 L734.3 379.5 L737.6 377.8 L740.9 374.6 L744.2 365.3 L747.5 357.8 L750.8 357.1 L754.1 349.6 L757.4 342.0 L760.7 340.4 L764.0 329.4 L767.3 322.6 L770.6 320.2 L773.9 327.4 L777.2 313.7 L780.5 314.6 L783.8 307.3 L787.1 303.8 L790.4 300.2 L793.7 293.7 L797.0 290.9 L800.3 287.4 L803.6 278.1 L806.9 269.8 L810.2 263.1 L813.5 263.8 L816.8 253.2 L820.1 248.5 L823.4 238.8 L826.7 236.8 L830.0 227.4 L833.4 225.4 L836.7 226.7 L840.0 218.4 L843.3 219.1 L846.6 215.3 L849.9 213.1 L853.2 208.7 L856.5 204.0 L859.8 200.0 L863.1 191.6 L866.4 188.6 L869.7 188.9 L873.0 185.0 L876.3 173.6 L879.6 160.8 L882.9 163.5 L886.2 159.9 L889.5 163.4 L892.8 152.3 L896.1 152.3 L899.4 148.9 L902.7 142.1 L906.0 136.1 L909.3 124.4 L912.6 117.1 L915.9 112.6 L919.2 107.3 L922.5 101.1 L925.8 98.5 L929.1 87.9 L932.4 86.3 L935.7 84.1 L939.0 85.9 L942.3 82.9 L945.7 83.2 L949.0 82.6 L952.3 81.3 L955.6 79.9 L958.9 79.9 L962.2 79.9 L965.5 79.9 L968.8 79.9 L972.1 79.9 L975.4 79.9" stroke="#7c7c7c" stroke-width="0.85"/>
<path d="M116.6 79.9 L119.9 79.9 L123.2 79.9 L126.5 79.9 L129.8 79.9 L133.1 79.9 L136.4 79.9 L139.7 79.9 L143.0 79.9 L146.3 79.9 L149.6 79.9 L152.9 79.9 L156.2 79.9 L159.5 79.9 L162.8 79.9 L166.1 79.9 L169.4 79.9 L172.8 79.9 L176.1 79.9 L179.4 79.9 L182.7 79.9 L186.0 79.9 L189.3 79.9 L192.6 79.9 L195.9 79.9 L199.2 80.1 L202.5 81.8 L205.8 82.5 L209.1 83.5 L212.4 86.0 L215.7 86.8 L219.0 92.1 L222.3 94.9 L225.6 94.1 L228.9 88.1 L232.2 94.6 L235.5 98.0 L238.8 99.8 L242.1 101.7 L245.4 100.1 L248.7 103.5 L252.0 101.0 L255.3 107.6 L258.6 104.5 L261.9 111.7 L265.2 113.1 L268.5 125.9 L271.8 124.2 L275.1 122.5 L278.4 125.4 L281.7 121.7 L285.1 126.6 L288.4 124.7 L291.7 117.3 L295.0 122.4 L298.3 131.0 L301.6 139.0 L304.9 140.5 L308.2 143.8 L311.5 140.9 L314.8 139.1 L318.1 143.6 L321.4 139.8 L324.7 148.1 L328.0 148.9 L331.3 155.5 L334.6 153.1 L337.9 166.9 L341.2 168.1 L344.5 165.7 L347.8 163.7 L351.1 162.2 L354.4 157.6 L357.7 161.7 L361.0 167.4 L364.3 165.4 L367.6 171.0 L370.9 180.7 L374.2 177.7 L377.5 182.9 L380.8 186.3 L384.1 182.6 L387.4 189.4 L390.7 190.4 L394.1 187.5 L397.4 189.5 L400.7 196.4 L404.0 200.0 L407.3 205.8 L410.6 192.0 L413.9 198.6 L417.2 203.9 L420.5 207.2 L423.8 208.4 L427.1 209.6 L430.4 214.6 L433.7 193.1 L437.0 202.5 L440.3 213.0 L443.6 223.9 L446.9 222.2 L450.2 225.5 L453.5 228.3 L456.8 237.6 L460.1 235.5 L463.4 239.6 L466.7 228.0 L470.0 230.3 L473.3 236.2 L476.6 247.0 L479.9 253.1 L483.2 248.6 L486.5 254.3 L489.8 263.9 L493.1 263.4 L496.4 260.4 L499.7 268.4 L503.1 276.0 L506.4 293.9 L509.7 300.1 L513.0 298.9 L516.3 301.2 L519.6 305.9 L522.9 309.9 L526.2 317.9 L529.5 325.9 L532.8 318.6 L536.1 325.3 L539.4 335.1 L542.7 345.0 L546.0 348.5 L549.3 353.1 L552.6 361.2 L555.9 358.1 L559.2 383.3 L562.5 389.9 L565.8 375.0 L569.1 374.7 L572.4 370.0 L575.7 376.7 L579.0 371.9 L582.3 377.9 L585.6 380.0 L588.9 383.4 L592.2 385.7 L595.5 393.3 L598.8 389.6 L602.1 387.0 L605.4 366.0 L608.7 374.6 L612.0 380.3 L615.4 393.4 L618.7 395.6 L622.0 388.3 L625.3 390.0 L628.6 397.0 L631.9 398.4 L635.2 396.9 L638.5 396.5 L641.8 395.8 L645.1 395.1 L648.4 383.8 L651.7 394.5 L655.0 393.4 L658.3 402.8 L661.6 400.6 L664.9 397.1 L668.2 405.0 L671.5 399.2 L674.8 401.2 L678.1 396.3 L681.4 397.7 L684.7 403.6 L688.0 399.8 L691.3 395.8 L694.6 398.5 L697.9 396.9 L701.2 402.7 L704.5 401.2 L707.8 395.6 L711.1 392.5 L714.4 395.9 L717.7 392.5 L721.0 393.7 L724.4 389.7 L727.7 379.8 L731.0 378.9 L734.3 381.2 L737.6 382.5 L740.9 378.5 L744.2 377.1 L747.5 373.1 L750.8 379.4 L754.1 371.4 L757.4 364.6 L760.7 354.9 L764.0 356.2 L767.3 345.7 L770.6 342.2 L773.9 340.1 L777.2 330.5 L780.5 325.6 L783.8 323.1 L787.1 318.0 L790.4 312.7 L793.7 307.8 L797.0 296.5 L800.3 295.6 L803.6 291.1 L806.9 286.9 L810.2 278.2 L813.5 277.2 L816.8 267.8 L820.1 260.7 L823.4 255.4 L826.7 253.8 L830.0 237.6 L833.4 237.7 L836.7 240.8 L840.0 239.9 L843.3 239.3 L846.6 230.8 L849.9 229.9 L853.2 223.9 L856.5 209.5 L859.8 205.5 L863.1 210.8 L866.4 203.9 L869.7 202.0 L873.0 195.3 L876.3 178.5 L879.6 184.4 L882.9 176.2 L886.2 174.7 L889.5 170.1 L892.8 161.4 L896.1 155.3 L899.4 148.1 L902.7 146.4 L906.0 142.8 L909.3 141.7 L912.6 128.5 L915.9 127.5 L919.2 119.9 L922.5 102.9 L925.8 103.7 L929.1 101.6 L932.4 101.7 L935.7 83.0 L939.0 91.1 L942.3 89.3 L945.7 88.2 L949.0 87.8 L952.3 84.9 L955.6 84.3 L958.9 82.1 L962.2 80.4 L965.5 79.9 L968.8 79.9 L972.1 79.9 L975.4 79.9" stroke="#7c7c7c" stroke-width="0.85"/>
<path d="M116.6 79.9 L119.9 79.9 L123.2 79.9 L126.5 79.9 L129.8 79.9 L133.1 79.9 L136.4 79.9 L139.7 79.9 L143.0 79.9 L146.3 79.9 L149.6 79.9 L152.9 79.9 L156.2 79.9 L159.5 79.9 L162.8 79.9 L166.1 79.9 L169.4 79.9 L172.8 79.9 L176.1 79.9 L179.4 79.9 L182.7 79.9 L186.0 79.9 L189.3 79.9 L192.6 79.9 L195.9 79.9 L199.2 79.9 L202.5 79.9 L205.8 79.9 L209.1 81.6 L212.4 83.1 L215.7 85.5 L219.0 83.8 L222.3 84.6 L225.6 87.5 L228.9 90.8 L232.2 92.9 L235.5 85.4 L238.8 91.0 L242.1 98.2 L245.4 105.4 L248.7 108.9 L252.0 100.3 L255.3 103.9 L258.6 105.8 L261.9 108.4 L265.2 110.5 L268.5 107.2 L271.8 109.0 L275.1 112.4 L278.4 112.8 L281.7 113.0 L285.1 99.3 L288.4 102.6 L291.7 119.4 L295.0 119.9 L298.3 123.1 L301.6 130.4 L304.9 127.0 L308.2 119.6 L311.5 123.9 L314.8 128.4 L318.1 141.1 L321.4 147.8 L324.7 148.0 L328.0 143.7 L331.3 144.0 L334.6 153.7 L337.9 156.1 L341.2 158.8 L344.5 155.7 L347.8 159.7 L351.1 160.4 L354.4 163.0 L357.7 161.7 L361.0 165.6 L364.3 169.3 L367.6 171.3 L370.9 172.3 L374.2 188.2 L377.5 188.4 L380.8 185.0 L384.1 188.2 L387.4 182.6 L390.7 187.4 L394.1 183.0 L397.4 182.6 L400.7 191.0 L404.0 194.5 L407.3 190.9 L410.6 187.9 L413.9 203.2 L417.2 195.7 L420.5 195.7 L423.8 195.9 L427.1 201.6 L430.4 199.1 L433.7 203.3 L437.0 210.1 L440.3 210.2 L443.6 214.0 L446.9 220.0 L450.2 217.1 L453.5 221.5 L456.8 226.0 L460.1 229.2 L463.4 230.7 L466.7 241.9 L470.0 238.1 L473.3 236.7 L476.6 235.4 L479.9 235.7 L483.2 243.1 L486.5 237.5 L489.8 247.6 L493.1 253.1 L496.4 259.3 L499.7 254.9 L503.1 264.3 L506.4 263.6 L509.7 271.0 L513.0 279.6 L516.3 289.0 L519.6 300.8 L522.9 301.8 L526.2 305.2 L529.5 299.6 L532.8 309.8 L536.1 318.5 L539.4 317.4 L542.7 324.2 L546.0 331.5 L549.3 339.2 L552.6 336.9 L555.9 341.2 L559.2 333.9 L562.5 332.6 L565.8 336.5 L569.1 334.6 L572.4 342.0 L575.0 348.6 L579.0 338.8 L583.0 320.0 L585.8 306.3 L587.5 308.0 L589.0 335.0 L590.7 358.4 L598.6 364.3 L606.4 366.3 L612.0 364.0 L618.2 372.2 L624.0 370.0 L630.0 376.1 L637.9 364.3 L643.8 362.3 L648.4 359.4 L651.7 361.6 L655.0 366.4 L658.3 371.1 L661.6 372.1 L664.9 370.5 L668.2 353.0 L671.5 358.2 L674.8 370.7 L678.1 367.5 L681.4 372.0 L684.7 371.2 L688.0 361.5 L691.3 361.0 L694.6 350.1 L697.9 363.9 L701.2 364.5 L704.5 369.3 L707.8 365.9 L711.1 369.1 L714.4 366.5 L717.7 374.8 L721.0 371.2 L724.4 355.7 L727.7 362.9 L731.0 361.7 L734.3 359.7 L737.6 361.2 L740.9 355.3 L744.2 356.3 L747.5 354.8 L750.8 346.4 L754.1 349.2 L757.4 347.1 L760.7 347.9 L764.0 346.1 L767.3 341.2 L770.6 332.3 L773.9 324.8 L777.2 339.0 L780.5 332.1 L783.8 336.8 L787.1 332.9 L790.4 327.0 L793.7 325.5 L797.0 329.2 L800.3 317.4 L803.6 310.1 L806.9 301.6 L810.2 303.8 L813.5 296.6 L816.8 294.4 L820.1 284.8 L823.4 285.5 L826.7 278.4 L830.0 266.6 L833.4 259.9 L836.7 250.6 L840.0 239.0 L843.3 243.5 L846.6 239.6 L849.9 229.1 L853.2 225.2 L856.5 223.6 L859.8 227.6 L863.1 212.3 L866.4 210.8 L869.7 209.9 L873.0 200.3 L876.3 193.9 L879.6 190.7 L882.9 184.9 L886.2 180.1 L889.5 180.5 L892.8 178.2 L896.1 175.2 L899.4 165.2 L902.7 163.3 L906.0 156.6 L909.3 154.3 L912.6 141.1 L915.9 139.2 L919.2 128.6 L922.5 130.0 L925.8 117.0 L929.1 113.5 L932.4 108.2 L935.7 95.9 L939.0 98.6 L942.3 105.8 L945.7 101.2 L949.0 93.1 L952.3 91.0 L955.6 89.2 L958.9 86.1 L962.2 82.6 L965.5 82.1 L968.8 80.0 L972.1 79.9 L975.4 79.9" stroke="#7c7c7c" stroke-width="0.85"/>
<path d="M116.6 79.9 L119.9 79.9 L123.2 79.9 L126.5 79.9 L129.8 79.9 L133.1 79.9 L136.4 79.9 L139.7 79.9 L143.0 79.9 L146.3 79.9 L149.6 79.9 L152.9 79.9 L156.2 79.9 L159.5 79.9 L162.8 79.9 L166.1 79.9 L169.4 79.9 L172.8 79.9 L176.1 79.9 L179.4 79.9 L182.7 79.9 L186.0 79.9 L189.3 79.9 L192.6 79.9 L195.9 79.9 L199.2 79.9 L202.5 79.9 L205.8 79.9 L209.1 79.9 L212.4 79.9 L215.7 79.9 L219.0 79.9 L222.3 79.9 L225.6 79.9 L228.9 79.9 L232.2 80.0 L235.5 80.9 L238.8 82.5 L242.1 84.1 L245.4 84.7 L248.7 83.9 L252.0 84.2 L255.3 86.4 L258.6 98.4 L261.9 98.8 L265.2 92.0 L268.5 95.2 L271.8 96.7 L275.1 97.0 L278.4 94.1 L281.7 79.9 L285.1 88.2 L288.4 97.5 L291.7 103.7 L295.0 108.0 L298.3 105.4 L301.6 110.6 L304.9 114.8 L308.2 113.0 L311.5 111.0 L314.8 116.9 L318.1 116.3 L321.4 118.5 L324.7 118.1 L328.0 122.3 L331.3 127.9 L334.6 129.1 L337.9 130.5 L341.2 124.4 L344.5 132.3 L347.8 135.6 L351.1 136.0 L354.4 136.4 L357.7 129.3 L361.0 142.0 L364.3 145.3 L367.6 151.3 L370.9 162.5 L374.2 160.3 L377.5 162.0 L380.8 164.3 L384.1 158.2 L387.4 160.4 L390.7 163.2 L394.1 163.0 L397.4 166.3 L400.7 170.8 L404.0 176.6 L407.3 180.5 L410.6 180.7 L413.9 176.6 L417.2 174.1 L420.5 169.2 L423.8 175.4 L427.1 175.5 L430.4 181.0 L433.7 201.6 L437.0 195.5 L440.3 191.7 L443.6 187.4 L446.9 184.8 L450.2 189.5 L453.5 188.1 L456.8 192.6 L460.1 195.9 L463.4 192.9 L466.7 200.2 L470.0 197.3 L473.3 203.6 L476.6 203.0 L479.9 223.2 L483.2 213.8 L486.5 211.9 L489.8 210.6 L493.1 209.8 L496.4 210.4 L499.7 215.7 L503.1 217.1 L506.4 215.9 L509.7 223.1 L513.0 228.7 L516.3 229.4 L519.6 233.5 L522.9 231.1 L526.2 233.1 L529.5 233.8 L532.8 232.4 L536.1 241.2 L540.0 256.0 L545.0 262.0 L550.0 259.0 L556.0 265.0 L563.0 268.0 L568.0 261.0 L574.0 258.0 L580.0 268.0 L585.0 274.0 L590.0 285.0 L594.0 284.0 L598.6 291.6 L604.0 296.0 L610.4 302.4 L617.3 303.4 L621.2 328.9 L630.0 334.8 L637.0 336.0 L643.8 338.8 L647.7 330.9 L655.6 327.0 L659.5 334.8 L665.4 319.1 L668.3 317.2 L671.3 334.8 L675.2 325.0 L677.2 321.1 L683.1 330.9 L689.0 321.1 L693.9 342.7 L698.8 325.0 L704.7 317.2 L716.5 312.2 L722.0 300.0 L727.0 286.0 L733.0 280.0 L738.0 262.0 L741.7 256.5 L750.8 238.4 L758.0 236.0 L765.3 231.1 L776.2 220.2 L780.0 200.0 L783.5 183.9 L788.0 176.0 L794.4 165.7 L803.0 158.0 L812.6 151.2 L816.0 140.0 L819.8 125.8 L823.5 104.0 L830.7 89.4 L838.0 82.2 L848.9 80.3 L853.2 79.9 L856.5 79.9 L859.8 79.9 L863.1 79.9 L866.4 79.9 L869.7 79.9 L873.0 79.9 L876.3 79.9 L879.6 79.9 L882.9 79.9 L886.2 79.9 L889.5 79.9 L892.8 79.9 L896.1 79.9 L899.4 79.9 L902.7 79.9 L906.0 79.9 L909.3 79.9 L912.6 79.9 L915.9 79.9 L919.2 79.9 L922.5 79.9 L925.8 79.9 L929.1 79.9 L932.4 79.9 L935.7 79.9 L939.0 79.9 L942.3 79.9 L945.7 79.9 L949.0 79.9 L952.3 79.9 L955.6 79.9 L958.9 79.9 L962.2 79.9 L965.5 79.9 L968.8 79.9 L972.1 79.9 L975.4 79.9" stroke="#7c7c7c" stroke-width="0.85"/>
<path d="M116.6 79.9 L119.9 79.9 L123.2 79.9 L126.5 79.9 L129.8 79.9 L133.1 79.9 L136.4 79.9 L139.7 79.9 L143.0 79.9 L146.3 79.9 L149.6 79.9 L152.9 79.9 L156.2 79.9 L159.5 79.9 L162.8 79.9 L166.1 79.9 L169.4 79.9 L172.8 79.9 L176.1 79.9 L179.4 79.9 L182.7 79.9 L186.0 79.9 L189.3 79.9 L192.6 79.9 L195.9 79.9 L199.2 79.9 L202.5 79.9 L205.8 79.9 L209.1 79.9 L212.4 79.9 L215.7 80.0 L219.0 81.1 L222.3 82.4 L225.6 84.0 L228.9 84.9 L232.2 88.3 L235.5 85.3 L238.8 89.7 L242.1 85.2 L245.4 85.2 L248.7 89.1 L252.0 88.2 L255.3 94.6 L258.6 104.7 L261.9 101.5 L265.2 103.7 L268.5 103.5 L271.8 105.3 L275.1 107.7 L278.4 109.5 L281.7 110.6 L285.1 113.7 L288.4 114.4 L291.7 117.9 L295.0 117.9 L298.3 117.5 L301.6 121.4 L304.9 122.4 L308.2 123.3 L311.5 118.9 L314.8 115.9 L318.1 125.6 L321.4 128.1 L324.7 132.3 L328.0 138.4 L331.3 135.1 L334.6 140.9 L337.9 150.2 L341.2 146.3 L344.5 150.7 L347.8 158.3 L351.1 156.2 L354.4 162.6 L357.7 165.6 L361.0 161.9 L364.3 160.5 L367.6 162.8 L370.9 169.5 L374.2 165.2 L377.5 168.4 L380.8 167.5 L384.1 171.3 L387.4 171.9 L390.7 171.4 L394.1 170.6 L397.4 174.6 L400.7 179.1 L404.0 182.1 L407.3 180.7 L410.6 178.8 L413.9 183.4 L417.2 190.5 L420.5 187.5 L423.8 190.6 L427.1 194.0 L430.4 195.1 L433.7 196.4 L437.0 197.8 L440.3 200.7 L443.6 204.1 L446.9 202.9 L450.2 207.3 L453.5 206.5 L456.8 211.6 L460.1 206.2 L463.4 209.6 L466.7 222.7 L470.0 223.9 L473.3 225.4 L476.6 227.3 L479.9 238.4 L483.2 237.6 L486.5 228.3 L489.8 240.0 L493.1 241.7 L496.4 244.0 L499.7 238.8 L503.1 240.7 L506.4 244.1 L509.7 251.7 L513.0 262.4 L516.3 270.0 L519.6 266.9 L522.9 271.9 L526.2 280.2 L529.5 285.4 L532.8 291.5 L536.1 298.7 L539.4 301.4 L542.7 313.2 L546.0 314.5 L549.3 326.5 L552.6 333.3 L555.9 341.3 L559.2 345.1 L562.5 351.0 L565.8 355.8 L569.1 364.6 L572.4 372.0 L575.7 378.3 L579.0 379.3 L582.3 378.2 L585.6 378.1 L588.9 378.8 L592.2 384.7 L595.5 383.8 L598.8 386.2 L602.1 387.9 L605.4 388.3 L608.7 395.2 L612.0 395.4 L615.4 394.7 L618.7 396.9 L622.0 394.8 L625.3 396.7 L628.6 399.8 L631.9 405.9 L635.2 401.0 L638.5 403.5 L641.8 405.7 L645.1 399.2 L648.4 408.6 L651.7 414.8 L655.0 416.4 L658.3 409.1 L661.6 408.2 L664.9 408.4 L668.2 425.2 L671.5 424.2 L674.8 426.3 L678.1 419.0 L681.4 417.5 L684.7 413.7 L688.0 416.1 L691.3 417.0 L694.6 409.6 L697.9 414.5 L701.2 403.9 L704.5 405.5 L707.8 413.5 L711.1 412.5 L714.4 412.7 L717.7 406.0 L721.0 406.7 L724.4 411.8 L727.7 414.4 L731.0 403.6 L734.3 407.9 L737.6 397.6 L740.9 396.9 L744.2 380.8 L747.5 389.8 L750.8 386.0 L754.1 385.0 L757.4 379.8 L760.7 378.4 L764.0 378.2 L767.3 370.6 L770.6 364.7 L773.9 363.1 L777.2 358.2 L780.5 358.5 L783.8 350.2 L787.1 345.2 L790.4 340.9 L793.7 333.0 L797.0 327.7 L800.3 331.5 L803.6 325.6 L806.9 317.3 L810.2 291.0 L813.5 296.4 L816.8 289.4 L820.1 287.6 L823.4 281.1 L826.7 270.9 L830.0 270.5 L833.4 263.7 L836.7 255.2 L840.0 262.1 L843.3 250.5 L846.6 247.2 L849.9 239.7 L853.2 236.5 L856.5 230.1 L859.8 228.1 L863.1 223.4 L866.4 222.4 L869.7 219.0 L873.0 213.8 L876.3 204.2 L879.6 206.5 L882.9 204.3 L886.2 196.9 L889.5 192.1 L892.8 183.1 L896.1 177.3 L899.4 177.2 L902.7 171.8 L906.0 165.8 L909.3 157.5 L912.6 146.9 L915.9 141.5 L919.2 135.1 L922.5 135.0 L925.8 120.9 L929.1 119.2 L932.4 117.9 L935.7 109.6 L939.0 107.0 L942.3 107.4 L945.7 101.4 L949.0 95.9 L952.3 93.4 L955.6 91.2 L958.9 88.3 L962.2 85.5 L965.5 86.3 L968.8 82.2 L972.1 80.5 L975.4 80.2" stroke="#7c7c7c" stroke-width="0.85"/>
<path d="M116.6 79.9 L119.9 79.9 L123.2 79.9 L126.5 79.9 L129.8 79.9 L133.1 79.9 L136.4 79.9 L139.7 79.9 L143.0 79.9 L146.3 79.9 L149.6 79.9 L152.9 79.9 L156.2 79.9 L159.5 79.9 L162.8 79.9 L166.1 79.9 L169.4 79.9 L172.8 79.9 L176.1 79.9 L179.4 79.9 L182.7 79.9 L186.0 79.9 L189.3 79.9 L192.6 79.9 L195.9 79.9 L199.2 79.9 L202.5 79.9 L205.8 79.9 L209.1 79.9 L212.4 79.9 L215.7 79.9 L219.0 79.9 L222.3 80.2 L225.6 81.5 L228.9 81.0 L232.2 82.1 L235.5 85.2 L238.8 86.3 L242.1 86.6 L245.4 88.6 L248.7 90.3 L252.0 93.0 L255.3 88.9 L258.6 90.8 L261.9 97.0 L265.2 95.7 L268.5 101.2 L271.8 94.2 L275.1 96.3 L278.4 93.9 L281.7 99.0 L285.1 107.1 L288.4 101.4 L291.7 104.1 L295.0 106.1 L298.3 114.7 L301.6 117.1 L304.9 117.3 L308.2 119.2 L311.5 125.4 L314.8 124.5 L318.1 124.7 L321.4 130.8 L324.7 135.8 L328.0 135.3 L331.3 138.2 L334.6 136.5 L337.9 134.4 L341.2 134.7 L344.5 139.1 L347.8 151.1 L351.1 156.0 L354.4 156.6 L357.7 150.8 L361.0 152.9 L364.3 159.6 L367.6 158.6 L370.9 164.2 L374.2 160.0 L377.5 164.3 L380.8 168.9 L384.1 171.3 L387.4 170.2 L390.7 172.3 L394.1 170.6 L397.4 172.5 L400.7 177.6 L404.0 176.9 L407.3 186.3 L410.6 187.0 L413.9 190.7 L417.2 194.7 L420.5 187.1 L423.8 192.2 L427.1 196.8 L430.4 192.3 L433.7 180.3 L437.0 187.1 L440.3 195.2 L443.6 183.7 L446.9 189.9 L450.2 194.9 L453.5 201.7 L456.8 202.3 L460.1 202.1 L463.4 203.1 L466.7 204.1 L470.0 213.3 L473.3 211.5 L476.6 221.8 L479.9 223.1 L483.2 225.1 L486.5 228.3 L489.8 228.3 L493.1 225.9 L496.4 241.2 L499.7 234.9 L503.1 235.5 L506.4 237.6 L509.7 238.4 L513.0 237.4 L516.3 260.9 L519.6 261.3 L522.9 266.6 L526.2 281.8 L529.5 280.1 L532.8 280.3 L536.1 288.9 L539.4 303.1 L542.7 305.3 L546.0 317.3 L549.3 319.9 L552.6 325.5 L555.9 320.7 L559.2 332.8 L562.5 320.6 L565.8 328.6 L569.1 335.4 L572.4 335.3 L575.7 341.2 L579.0 331.1 L582.3 345.6 L585.6 349.7 L588.9 353.5 L592.2 349.5 L595.5 357.6 L598.8 353.9 L602.1 351.6 L605.4 353.4 L608.7 352.0 L612.0 350.5 L615.4 349.8 L618.7 346.9 L622.0 343.8 L625.3 349.5 L628.6 346.4 L631.9 348.2 L635.2 358.5 L638.5 361.2 L641.8 351.0 L645.1 352.6 L648.4 349.1 L651.7 354.2 L655.0 351.4 L658.3 349.8 L661.6 356.7 L664.9 357.1 L668.2 362.3 L671.5 361.7 L674.8 362.1 L678.1 354.6 L681.4 357.0 L684.7 351.4 L688.0 352.6 L691.3 356.1 L694.6 353.9 L697.9 353.6 L701.2 345.2 L704.5 345.0 L707.8 347.3 L711.1 354.1 L714.4 349.4 L717.7 341.4 L721.0 347.5 L724.4 327.4 L727.7 331.9 L731.0 336.9 L734.3 339.5 L737.6 334.7 L740.9 332.9 L744.2 330.3 L747.5 324.1 L750.8 324.6 L754.1 320.7 L757.4 309.1 L760.7 308.4 L764.0 305.6 L767.3 317.8 L770.6 306.0 L773.9 296.3 L777.2 294.3 L780.5 279.8 L783.8 274.0 L787.1 269.1 L790.4 266.8 L793.7 256.4 L797.0 253.8 L800.3 245.1 L803.6 237.0 L806.9 250.6 L810.2 232.3 L813.5 226.5 L816.8 228.0 L820.1 224.6 L823.4 220.2 L826.7 216.6 L830.0 207.1 L833.4 212.0 L836.7 208.5 L840.0 198.9 L843.3 197.5 L846.6 196.2 L849.9 194.9 L853.2 187.1 L856.5 178.4 L859.8 176.8 L863.1 171.5 L866.4 160.5 L869.7 158.9 L873.0 154.6 L876.3 153.6 L879.6 144.9 L882.9 142.3 L886.2 132.7 L889.5 129.8 L892.8 114.1 L896.1 107.3 L899.4 102.7 L902.7 101.7 L906.0 97.8 L909.3 93.3 L912.6 89.1 L915.9 94.3 L919.2 88.3 L922.5 84.8 L925.8 83.3 L929.1 81.5 L932.4 79.9 L935.7 79.9 L939.0 79.9 L942.3 79.9 L945.7 79.9 L949.0 79.9 L952.3 79.9 L955.6 79.9 L958.9 79.9 L962.2 79.9 L965.5 79.9 L968.8 79.9 L972.1 79.9 L975.4 79.9" stroke="#7c7c7c" stroke-width="0.85"/>
<path d="M116.6 79.9 L119.9 79.9 L123.2 79.9 L126.5 79.9 L129.8 79.9 L133.1 79.9 L136.4 79.9 L139.7 79.9 L143.0 79.9 L146.3 79.9 L149.6 79.9 L152.9 79.9 L156.2 79.9 L159.5 79.9 L162.8 79.9 L166.1 79.9 L169.4 79.9 L172.8 79.9 L176.1 79.9 L179.4 79.9 L182.7 79.9 L186.0 79.9 L189.3 79.9 L192.6 79.9 L195.9 79.9 L199.2 79.9 L202.5 79.9 L205.8 79.9 L209.1 79.9 L212.4 79.9 L215.7 79.9 L219.0 79.9 L222.3 79.9 L225.6 79.9 L228.9 80.8 L232.2 82.3 L235.5 83.1 L238.8 85.0 L242.1 83.8 L245.4 85.2 L248.7 86.4 L252.0 81.3 L255.3 86.1 L258.6 89.1 L261.9 90.0 L265.2 94.3 L268.5 81.7 L271.8 94.8 L275.1 98.8 L278.4 102.5 L281.7 95.5 L285.1 95.5 L288.4 101.9 L291.7 112.2 L295.0 115.9 L298.3 109.9 L301.6 114.0 L304.9 117.5 L308.2 111.3 L311.5 114.8 L314.8 112.3 L318.1 118.4 L321.4 124.7 L324.7 119.2 L328.0 124.1 L331.3 127.9 L334.6 130.9 L337.9 129.8 L341.2 131.3 L344.5 141.4 L347.8 132.9 L351.1 142.7 L354.4 148.0 L357.7 146.1 L361.0 155.7 L364.3 150.8 L367.6 166.0 L370.9 169.1 L374.2 165.3 L377.5 161.7 L380.8 167.7 L384.1 165.8 L387.4 164.1 L390.7 163.8 L394.1 168.9 L397.4 178.1 L400.7 176.2 L402.6 176.7 L409.5 177.7 L419.4 182.7 L431.3 185.6 L436.2 181.2 L439.2 185.6 L443.2 181.7 L449.1 189.6 L459.0 192.6 L466.0 196.0 L472.5 197.0 L482.0 197.5 L489.0 203.0 L496.0 214.0 L500.0 220.0 L504.0 218.5 L507.5 212.0 L510.0 211.0 L513.0 221.0 L515.5 215.0 L520.0 217.5 L523.5 221.0 L526.0 227.0 L527.5 238.0 L529.0 262.0 L531.0 300.0 L532.8 261.8 L536.1 266.3 L539.4 278.6 L542.7 289.3 L546.0 298.5 L549.3 302.7 L552.6 316.8 L555.9 320.2 L559.2 329.3 L562.5 334.5 L565.8 341.2 L569.1 348.7 L572.4 349.1 L575.7 357.4 L579.0 365.7 L582.3 372.5 L585.6 381.0 L588.9 378.3 L592.2 390.8 L595.5 383.0 L598.8 377.2 L602.1 369.6 L605.4 368.0 L608.7 369.5 L612.0 378.7 L615.4 379.4 L618.7 384.1 L622.0 382.7 L625.3 387.2 L628.6 379.8 L631.9 378.5 L635.2 382.8 L638.5 376.3 L641.8 381.9 L645.1 387.1 L648.4 385.5 L651.7 382.0 L655.0 381.6 L658.3 379.2 L661.6 379.0 L664.9 391.4 L668.2 389.6 L671.5 389.1 L674.8 391.3 L678.1 398.0 L681.4 386.4 L684.7 381.3 L688.0 386.3 L691.3 395.3 L694.6 391.3 L697.9 383.3 L701.2 382.5 L704.5 387.8 L707.8 374.5 L711.1 374.6 L714.4 372.8 L717.7 368.1 L721.0 374.0 L724.4 375.3 L727.7 371.6 L731.0 360.4 L734.3 360.0 L737.6 359.6 L740.9 355.2 L744.2 349.2 L747.5 349.5 L750.8 343.6 L754.1 332.3 L757.4 338.0 L760.7 337.6 L764.0 323.4 L767.3 322.3 L770.6 318.1 L773.9 317.6 L777.2 309.2 L780.5 304.5 L783.8 294.2 L787.1 291.4 L790.4 286.5 L793.7 278.8 L797.0 274.7 L800.3 265.0 L803.6 256.3 L806.9 255.4 L810.2 246.3 L813.5 245.3 L816.8 239.7 L820.1 237.8 L823.4 235.4 L826.7 224.9 L830.0 227.9 L833.4 226.8 L836.7 221.1 L840.0 219.1 L843.3 216.1 L846.6 212.8 L849.9 205.0 L853.2 202.4 L856.5 201.1 L859.8 198.7 L863.1 196.5 L866.4 184.4 L869.7 177.9 L873.0 171.3 L876.3 169.2 L879.6 172.4 L882.9 161.8 L886.2 162.3 L889.5 155.3 L892.8 161.1 L896.1 152.9 L899.4 144.4 L902.7 128.2 L906.0 120.6 L909.3 124.9 L912.6 117.3 L915.9 106.5 L919.2 97.0 L922.5 97.7 L925.8 100.6 L929.1 85.7 L932.4 87.7 L935.7 85.4 L939.0 84.7 L942.3 85.4 L945.7 83.1 L949.0 80.9 L952.3 79.9 L955.6 79.9 L958.9 79.9 L962.2 79.9 L965.5 79.9 L968.8 79.9 L972.1 79.9 L975.4 79.9" stroke="#7c7c7c" stroke-width="0.85"/>
<path d="M116.6 79.9 L119.9 79.9 L123.2 79.9 L126.5 79.9 L129.8 79.9 L133.1 79.9 L136.4 79.9 L139.7 79.9 L143.0 79.9 L146.3 79.9 L149.6 79.9 L152.9 79.9 L156.2 79.9 L159.5 79.9 L162.8 79.9 L166.1 79.9 L169.4 79.9 L172.8 79.9 L176.1 79.9 L179.4 79.9 L182.7 79.9 L186.0 79.9 L189.3 79.9 L192.6 79.9 L195.9 79.9 L199.2 79.9 L202.5 79.9 L205.8 79.9 L209.1 79.9 L212.4 80.2 L215.7 82.0 L219.0 82.7 L222.3 83.4 L225.6 86.2 L228.9 86.1 L232.2 89.3 L235.5 83.7 L238.8 89.8 L242.1 89.6 L245.4 89.8 L248.7 93.5 L252.0 94.6 L255.3 105.2 L258.6 104.9 L261.9 108.4 L265.2 109.6 L268.5 105.7 L271.8 105.8 L275.1 111.3 L278.4 113.4 L281.7 108.2 L285.1 105.7 L288.4 116.8 L291.7 117.9 L295.0 120.2 L298.3 135.5 L301.6 118.7 L304.9 124.1 L308.2 125.3 L311.5 127.0 L314.8 132.2 L318.1 142.7 L321.4 140.1 L324.7 138.6 L328.0 142.4 L331.3 142.9 L334.6 139.9 L337.9 137.7 L341.2 154.8 L344.5 155.8 L347.8 159.5 L351.1 154.8 L354.4 161.9 L357.7 157.0 L361.0 162.6 L364.3 164.3 L367.6 170.6 L370.9 174.2 L374.2 175.5 L377.5 168.3 L380.8 180.8 L384.1 183.1 L387.4 186.2 L390.7 179.8 L394.1 170.7 L397.4 173.1 L400.7 175.2 L404.0 180.6 L407.3 188.6 L410.6 192.6 L413.9 193.5 L417.2 196.7 L420.5 198.3 L423.8 202.7 L427.1 208.8 L430.4 208.8 L433.7 207.3 L437.0 215.1 L440.3 216.0 L443.6 214.1 L446.9 210.9 L450.2 215.8 L453.5 214.6 L456.8 216.5 L460.1 209.7 L463.4 215.9 L466.7 221.6 L470.0 218.8 L473.3 227.2 L476.6 227.5 L479.9 230.9 L483.2 231.7 L486.5 240.6 L489.8 234.7 L493.1 238.1 L496.4 243.1 L499.7 242.5 L503.1 250.2 L506.4 249.9 L509.7 252.0 L513.0 258.4 L516.3 268.1 L519.6 264.8 L522.9 269.9 L526.2 283.4 L529.5 297.2 L532.8 299.1 L536.1 312.3 L539.4 317.3 L542.7 324.8 L546.0 326.2 L549.3 331.8 L552.6 331.2 L555.9 336.1 L559.2 347.1 L562.5 353.4 L565.8 360.0 L569.1 361.9 L572.4 370.2 L575.7 378.1 L579.0 383.4 L582.3 394.1 L585.6 393.6 L588.9 400.8 L592.2 406.5 L595.5 408.4 L598.8 415.9 L602.1 420.2 L605.4 429.8 L608.7 435.8 L612.0 437.5 L615.4 437.1 L618.7 452.9 L622.0 436.3 L625.3 426.7 L628.6 425.8 L631.9 424.4 L635.2 427.3 L638.5 426.7 L641.8 428.0 L645.1 429.7 L648.4 434.6 L651.7 439.1 L655.0 433.2 L658.3 434.7 L661.6 428.6 L664.9 423.5 L668.2 423.0 L671.5 416.8 L674.8 410.2 L678.1 414.0 L681.4 407.8 L684.7 389.8 L688.0 378.6 L691.3 375.6 L694.6 370.0 L697.9 358.4 L701.2 354.7 L704.5 346.9 L707.8 333.8 L711.1 329.4 L714.4 326.6 L717.7 315.6 L721.0 302.3 L724.4 293.0 L727.7 289.5 L731.0 290.3 L734.3 287.7 L737.6 274.4 L740.9 279.9 L744.2 267.0 L747.5 255.5 L750.8 252.2 L754.1 250.9 L757.4 242.5 L760.7 243.9 L764.0 239.4 L767.3 233.8 L770.6 233.4 L773.9 227.5 L777.2 233.5 L780.5 243.6 L783.8 231.7 L787.1 224.9 L790.4 213.7 L793.7 211.0 L797.0 198.9 L800.3 199.3 L803.6 197.7 L806.9 196.2 L810.2 190.1 L813.5 186.9 L816.8 171.5 L820.1 170.6 L823.4 167.1 L826.7 160.5 L830.0 154.8 L833.4 148.0 L836.7 146.0 L840.0 123.3 L843.3 119.8 L846.6 101.5 L849.9 100.8 L853.2 106.1 L856.5 99.1 L859.8 90.2 L863.1 87.3 L866.4 84.4 L869.7 82.8 L873.0 82.2 L876.3 79.9 L879.6 79.9 L882.9 79.9 L886.2 79.9 L889.5 79.9 L892.8 79.9 L896.1 79.9 L899.4 79.9 L902.7 79.9 L906.0 79.9 L909.3 79.9 L912.6 79.9 L915.9 79.9 L919.2 79.9 L922.5 79.9 L925.8 79.9 L929.1 79.9 L932.4 79.9 L935.7 79.9 L939.0 79.9 L942.3 79.9 L945.7 79.9 L949.0 79.9 L952.3 79.9 L955.6 79.9 L958.9 79.9 L962.2 79.9 L965.5 79.9 L968.8 79.9 L972.1 79.9 L975.4 79.9" stroke="#7c7c7c" stroke-width="0.85"/>
<path d="M116.6 79.8 L128.0 80.2 L131.8 82.4 L135.0 80.4 L200.0 83.0 L206.0 86.0 L207.9 88.9 L211.2 101.7 L213.0 99.9 L215.7 99.1 L220.8 105.9 L223.7 103.6 L226.8 107.4 L229.6 107.0 L233.7 114.6 L241.6 120.3 L245.5 117.6 L252.5 115.6 L255.2 115.0 L258.4 120.0 L260.5 118.1 L263.3 119.6 L267.2 129.2 L269.3 123.5 L271.1 121.6 L274.3 131.4 L278.2 136.0 L283.0 142.0 L290.0 151.6 L294.0 153.5 L297.9 157.0 L300.9 154.6 L306.7 153.8 L309.8 158.5 L314.8 164.5 L322.7 168.4 L330.0 172.0 L338.0 176.0 L345.0 178.0 L352.0 178.5 L360.0 179.7 L366.0 181.7 L370.8 183.4 L374.5 190.4 L378.1 198.8 L382.8 204.7 L387.6 214.2 L390.6 223.9 L393.5 219.7 L399.5 236.4 L403.2 228.9 L408.9 230.8 L414.7 232.7 L418.4 222.5 L420.8 219.9 L424.4 224.9 L427.4 244.9 L429.8 258.1 L432.5 250.7 L435.9 255.6 L439.4 252.2 L444.0 253.2 L445.9 255.0 L449.0 264.4 L453.0 265.8 L457.8 284.7 L462.9 311.0 L467.1 277.0 L469.7 284.7 L473.3 307.3 L476.8 313.1 L480.3 314.5 L482.7 318.1 L486.1 281.0 L489.4 290.0 L493.5 277.7 L498.2 274.6 L504.0 273.1 L507.1 278.8 L511.3 304.9 L513.6 316.8 L520.6 325.7 L525.7 319.0 L530.4 334.7 L539.5 335.8 L541.5 357.5 L545.5 368.7 L549.4 360.0 L553.4 368.0 L555.4 390.0 L557.8 348.2 L562.0 347.8 L565.2 369.4 L565.9 388.8 L569.4 410.1 L573.0 424.4 L575.4 445.8 L578.7 465.2 L582.4 435.8 L585.8 444.4 L590.0 451.4 L595.0 467.5 L598.0 467.1 L601.2 479.1 L608.6 484.8 L612.3 480.2 L618.4 483.2 L624.6 481.2 L630.2 479.2 L635.7 481.1 L644.1 477.7 L649.6 469.4 L652.7 459.7 L654.5 455.6 L656.6 461.1 L660.7 464.5 L667.6 466.4 L671.0 463.9 L674.6 470.8 L677.6 472.1 L681.0 454.3 L689.8 452.0 L696.8 447.2 L703.9 439.0 L709.4 424.3 L713.6 413.3 L717.7 406.3 L720.1 394.8 L723.4 401.4 L730.1 402.7 L734.5 395.4 L738.4 395.3 L741.0 397.8 L744.4 389.0 L748.1 392.0 L751.0 386.2 L753.9 371.1 L758.0 369.0 L761.2 369.8 L764.2 360.5 L768.0 345.7 L770.9 333.4 L776.8 331.1 L778.6 313.9 L783.9 311.7 L786.8 297.9 L790.2 292.3 L793.6 291.3 L797.3 297.0 L806.3 287.1 L810.3 288.8 L814.5 286.8 L817.3 280.5 L819.4 261.6 L822.9 254.1 L825.7 260.2 L832.7 268.9 L840.2 266.4 L845.0 264.2 L848.5 251.9 L852.5 243.2 L856.2 258.8 L859.7 264.9 L862.9 265.4 L866.6 253.2 L870.7 231.1 L874.9 207.5 L876.2 203.0 L880.0 197.0 L882.7 192.7 L885.4 181.6 L892.9 171.9 L900.3 167.5 L903.6 153.7 L906.9 140.8 L909.0 125.8 L914.5 114.1 L922.6 124.0 L926.2 108.6 L930.5 93.6 L935.8 86.1 L942.3 81.8 L948.7 79.8 L974.5 79.8" stroke="#3a7d22" stroke-width="4.0" stroke-linejoin="miter" stroke-miterlimit="10"/>
<path d="M116.6 79.8 L136.6 80.4 L141.3 84.3 L148.4 85.6 L154.4 84.4 L163.8 83.7 L167.5 79.2 L171.0 78.5 L185.3 78.8 L194.8 80.8 L200.0 82.9 L204.0 86.9 L208.0 94.7 L212.9 96.8 L217.8 97.2 L222.8 94.3 L228.7 93.4 L232.7 95.0 L234.7 94.2 L238.6 97.3 L241.6 98.9 L244.6 97.0 L247.5 99.1 L251.5 95.8 L254.9 94.2 L257.9 97.3 L261.7 106.2 L264.8 101.6 L269.3 107.7 L275.2 113.6 L281.2 118.4 L285.0 117.9 L289.1 123.5 L290.0 125.8 L295.9 133.8 L300.8 138.5 L303.0 135.8 L310.7 132.8 L314.8 138.7 L318.7 142.7 L323.6 144.8 L327.8 152.3 L333.4 147.8 L338.6 156.4 L343.5 158.5 L349.4 161.5 L355.3 166.4 L359.3 168.4 L360.1 169.2 L369.9 169.8 L374.9 172.8 L379.8 178.7 L385.7 183.7 L390.7 186.5 L393.9 186.5 L396.5 191.4 L401.6 188.1 L406.8 185.5 L409.7 190.0 L413.5 188.7 L416.8 189.2 L420.4 193.6 L424.4 198.5 L429.8 203.0 L433.3 201.5 L437.3 201.3 L441.6 212.8 L444.6 215.2 L449.4 221.3 L453.5 219.9 L459.1 219.7 L463.0 234.2 L466.6 246.1 L469.7 251.8 L472.3 251.0 L474.9 255.6 L478.4 262.7 L480.0 264.0 L482.9 262.5 L486.0 265.5 L489.4 265.1 L493.2 270.3 L497.8 269.4 L505.5 265.0 L511.5 267.7 L515.3 252.4 L519.2 259.9 L522.1 273.3 L525.4 269.4 L528.9 270.6 L535.0 252.1 L538.3 254.5 L542.6 255.0 L545.7 265.2 L548.9 259.9 L552.3 257.8 L556.0 262.9 L559.3 271.4 L562.4 270.4 L566.1 290.9 L570.4 252.8 L575.4 248.6 L579.2 255.2 L581.4 283.0 L584.5 265.3 L590.9 291.8 L596.7 274.7 L602.0 270.9 L605.6 292.5 L611.3 297.3 L618.1 286.0 L624.2 293.7 L627.8 287.6 L637.5 300.4 L644.5 290.7 L647.7 305.7 L653.9 285.8 L657.7 286.1 L664.4 295.4 L671.4 290.7 L677.0 289.6 L683.9 278.2 L687.8 280.8 L694.1 289.9 L699.7 274.9 L706.9 263.6 L710.5 266.9 L717.5 265.4 L723.3 261.2 L727.0 250.5 L730.6 245.8 L733.6 238.3 L736.5 244.6 L740.2 250.1 L746.0 245.2" stroke="#0505f0" stroke-width="5.4" stroke-linejoin="miter" stroke-miterlimit="10"/>
<path d="M116.6 79.8 L118.6 79.8 L120.6 79.8 L122.6 79.8 L124.6 79.8 L126.6 79.8 L128.6 79.9 L130.6 79.9 L132.6 79.9 L134.6 79.9 L136.6 79.9 L138.6 79.9 L140.6 79.9 L142.6 79.9 L144.6 79.9 L146.6 79.9 L148.6 79.9 L150.6 80.0 L152.6 80.0 L154.6 80.0 L156.6 80.0 L158.6 80.0 L160.6 80.1 L162.6 80.2 L164.6 80.3 L166.6 80.5 L168.6 80.7 L170.6 81.0 L172.6 81.2 L174.6 81.6 L176.6 81.9 L178.6 82.4 L180.6 82.8 L182.6 83.2 L184.6 83.7 L186.6 84.3 L188.6 84.8 L190.6 85.4 L192.6 86.1 L194.6 86.7 L196.6 87.4 L198.6 88.2 L200.6 89.0 L202.6 89.9 L204.6 90.7 L206.6 91.6 L208.6 92.6 L210.6 93.5 L212.6 94.4 L214.6 95.3 L216.6 96.3 L218.6 97.2 L220.6 98.0 L222.6 98.9 L224.6 99.7 L226.6 100.5 L228.6 101.3 L230.6 102.1 L232.6 102.9 L234.6 103.7 L236.6 104.5 L238.6 105.4 L240.6 106.2 L242.6 107.1 L244.6 108.0 L246.6 108.9 L248.6 109.9 L250.6 110.9 L252.6 111.9 L254.6 113.0 L256.6 114.1 L258.6 115.3 L260.6 116.6 L262.6 117.9 L264.6 119.2 L266.6 120.6 L268.6 121.9 L270.6 123.2 L272.6 124.5 L274.6 125.7 L276.6 127.0 L278.6 128.2 L280.6 129.5 L282.6 130.8 L284.6 132.1 L286.6 133.4 L288.6 134.8 L290.6 136.1 L292.6 137.5 L294.6 138.8 L296.6 140.2 L298.6 141.6 L300.6 142.9 L302.6 144.3 L304.6 145.6 L306.6 147.0 L308.6 148.4 L310.6 149.7 L312.6 151.1 L314.6 152.4 L316.6 153.8 L318.6 155.2 L320.6 156.5 L322.6 157.9 L324.6 159.3 L326.6 160.6 L328.6 162.0 L330.6 163.3 L332.6 164.7 L334.6 166.1 L336.6 167.5 L338.6 168.9 L340.6 170.3 L342.6 171.7 L344.6 173.2 L346.6 174.7 L348.6 176.2 L350.6 177.7 L352.6 179.2 L354.6 180.7 L356.6 182.2 L358.6 183.7 L360.6 185.2 L362.6 186.8 L364.6 188.4 L366.6 190.0 L368.6 191.7 L370.6 193.4 L372.6 195.2 L374.6 196.9 L376.6 198.6 L378.6 200.3 L380.6 201.9 L382.6 203.5 L384.6 205.1 L386.6 206.7 L388.6 208.1 L390.6 209.5 L392.6 210.9 L394.6 212.2 L396.6 213.4 L398.6 214.7 L400.6 215.8 L402.6 217.0 L404.6 218.1 L406.6 219.1 L408.6 220.2 L410.6 221.2 L412.6 222.2 L414.6 223.2 L416.6 224.2 L418.6 225.1 L420.6 226.1 L422.6 227.1 L424.6 228.1 L426.6 229.2 L428.6 230.3 L430.6 231.4 L432.6 232.6 L434.6 233.8 L436.6 235.0 L438.6 236.3 L440.6 237.7 L442.6 239.1 L444.6 240.5 L446.6 242.0 L448.6 243.6 L450.6 245.3 L452.6 247.1 L454.6 248.9 L456.6 250.7 L458.6 252.7 L460.6 254.7 L462.6 256.7 L464.6 258.9 L466.6 261.1 L468.6 263.3 L470.6 265.5 L472.6 267.6 L474.6 269.8 L476.6 271.9 L478.6 274.2 L480.6 276.4 L482.6 278.8 L484.6 281.2 L486.6 283.6 L488.6 286.1 L490.6 288.5 L492.6 291.0 L494.6 293.5 L496.6 295.9 L498.6 298.4 L500.6 300.8 L502.6 303.3 L504.6 305.8 L506.6 308.3 L508.6 310.8 L510.6 313.4 L512.6 316.1 L514.6 318.8 L516.6 321.5 L518.6 324.3 L520.6 327.0 L522.6 329.8 L524.6 332.6 L526.6 335.3 L528.6 338.1 L530.6 340.8 L532.6 343.6 L534.6 346.4 L536.6 349.1 L538.6 351.9 L540.6 354.7 L542.6 357.4 L544.6 360.3 L546.6 363.1 L548.6 366.2 L550.6 369.3 L552.6 372.5 L554.6 375.8 L556.6 379.1 L558.6 382.3 L560.6 385.4 L562.6 388.5 L564.6 391.5 L566.6 394.5 L568.6 397.5 L570.6 400.3 L572.6 403.1 L574.6 405.8 L576.6 408.4 L578.6 411.0 L580.6 413.4 L582.6 415.8 L584.6 418.0 L586.6 420.1 L588.6 422.2 L590.6 424.2 L592.6 426.3 L594.6 428.5 L596.6 430.6 L598.6 432.7 L600.6 434.6 L602.6 436.2 L604.6 437.6 L606.6 438.9 L608.6 440.1 L610.6 441.1 L612.6 442.1 L614.6 442.9 L616.6 443.6 L618.6 444.3 L620.6 444.8 L622.6 445.2 L624.6 445.6 L626.6 445.8 L628.6 446.0 L630.6 446.1 L632.6 446.1 L634.6 446.0 L636.6 445.8 L638.6 445.6 L640.6 445.2 L642.6 444.8 L644.6 444.3 L646.6 443.6 L648.6 442.9 L650.6 442.0 L652.6 441.0 L654.6 439.8 L656.6 438.5 L658.6 437.1 L660.6 435.5 L662.6 433.9 L664.6 432.1 L666.6 430.1 L668.6 428.1 L670.6 426.0 L672.6 423.7 L674.6 421.4 L676.6 419.0 L678.6 416.5 L680.6 414.0 L682.6 411.5 L684.6 409.0 L686.6 406.6 L688.6 404.3 L690.6 402.2 L692.6 400.3 L694.6 398.6 L696.6 396.9 L698.6 395.3 L700.6 393.7 L702.6 392.0 L704.6 390.4 L706.6 388.6 L708.6 386.8 L710.6 385.0 L712.6 383.2 L714.6 381.4 L716.6 379.6 L718.6 377.8 L720.6 376.0 L722.6 374.2 L724.6 372.4 L726.6 370.6 L728.6 368.7 L730.6 366.8 L732.6 364.7 L734.6 362.6 L736.6 360.3 L738.6 357.9 L740.6 355.4 L742.6 352.7 L744.6 349.8 L746.6 346.8 L748.6 343.8 L750.6 340.8 L752.6 337.7 L754.6 334.7 L756.6 331.7 L758.6 328.7 L760.6 325.7 L762.6 322.7 L764.6 319.7 L766.6 316.7 L768.6 313.7 L770.6 310.7 L772.6 307.7 L774.6 304.7 L776.6 301.7 L778.6 298.7 L780.6 295.7 L782.6 292.7 L784.6 289.7 L786.6 286.7 L788.6 283.7 L790.6 280.7 L792.6 277.7 L794.6 274.8 L796.6 271.8 L798.6 268.6 L800.6 265.2 L802.6 261.7 L804.6 257.9 L806.6 254.1 L808.6 250.4 L810.6 246.8 L812.6 243.4 L814.6 240.2 L816.6 237.2 L818.6 234.3 L820.6 231.7 L822.6 229.1 L824.6 226.7 L826.6 224.3 L828.6 222.1 L830.6 219.9 L832.6 217.9 L834.6 215.9 L836.6 213.9 L838.6 212.0 L840.6 210.1 L842.6 208.3 L844.6 206.6 L846.6 205.0 L848.6 203.4 L850.6 201.8 L852.6 200.1 L854.6 198.4 L856.6 196.7 L858.6 194.9 L860.6 193.1 L862.6 191.3 L864.6 189.3 L866.6 187.2 L868.6 185.0 L870.6 182.6 L872.6 180.0 L874.6 177.2 L876.6 174.2 L878.6 171.0 L880.6 167.7 L882.6 164.2 L884.6 160.6 L886.6 157.0 L888.6 153.5 L890.6 149.9 L892.6 146.4 L894.6 142.9 L896.6 139.6 L898.6 136.2 L900.6 132.8 L902.6 129.3 L904.6 125.6 L906.6 121.8 L908.6 118.0 L910.6 114.2 L912.6 110.5 L914.6 107.1 L916.6 104.0 L918.6 101.1 L920.6 98.5 L922.6 96.0 L924.6 93.7 L926.6 91.6 L928.6 89.6 L930.6 87.9 L932.6 86.2 L934.6 84.8 L936.6 83.5 L938.6 82.5 L940.6 81.7 L942.6 81.0 L944.6 80.5 L946.6 80.2 L948.6 80.0 L950.6 79.9 L952.6 79.8 L954.6 79.8 L956.6 79.8 L958.6 79.8 L960.6 79.8 L962.6 79.8 L964.6 79.8 L966.6 79.8 L968.6 79.8 L970.6 79.8 L972.6 79.8" stroke="#000" stroke-width="4.3" stroke-linecap="butt"/>
</g>
<path d="M116.2 64.75 H974.5 V503.9" fill="none" stroke="#8a8a8a" stroke-width="1"/>
<path d="M116.2 64.25 V503.95 H975.0" fill="none" stroke="#5c5c5c" stroke-width="1.1"/>
<path d="M104.4 503.95 H116.2 M104.4 460.03 H116.2 M104.4 416.11 H116.2 M104.4 372.19 H116.2 M104.4 328.27 H116.2 M104.4 284.35 H116.2 M104.4 240.43 H116.2 M104.4 196.51 H116.2 M104.4 152.59 H116.2 M104.4 108.67 H116.2 M104.4 64.75 H116.2 M110.2 481.99 H116.2 M110.2 438.07 H116.2 M110.2 394.15 H116.2 M110.2 350.23 H116.2 M110.2 306.31 H116.2 M110.2 262.39 H116.2 M110.2 218.47 H116.2 M110.2 174.55 H116.2 M110.2 130.63 H116.2 M110.2 86.71 H116.2" stroke="#787878" stroke-width="1" fill="none"/>
<path d="M116.29 503.9 V509.6 M119.59 503.9 V509.6 M122.89 503.9 V509.6 M126.19 503.9 V509.6 M129.49 503.9 V509.6 M132.79 503.9 V509.6 M136.09 503.9 V509.6 M139.39 503.9 V509.6 M142.69 503.9 V509.6 M145.99 503.9 V509.6 M149.30 503.9 V509.6 M152.60 503.9 V509.6 M155.90 503.9 V509.6 M159.20 503.9 V509.6 M162.50 503.9 V509.6 M165.80 503.9 V509.6 M169.10 503.9 V509.6 M172.40 503.9 V509.6 M175.70 503.9 V509.6 M179.00 503.9 V509.6 M182.30 503.9 V509.6 M185.60 503.9 V509.6 M188.90 503.9 V509.6 M192.21 503.9 V509.6 M195.51 503.9 V509.6 M198.81 503.9 V509.6 M202.11 503.9 V509.6 M205.41 503.9 V509.6 M208.71 503.9 V509.6 M212.01 503.9 V509.6 M215.31 503.9 V509.6 M218.61 503.9 V509.6 M221.91 503.9 V509.6 M225.21 503.9 V509.6 M228.51 503.9 V509.6 M231.82 503.9 V509.6 M235.12 503.9 V509.6 M238.42 503.9 V509.6 M241.72 503.9 V509.6 M245.02 503.9 V509.6 M248.32 503.9 V509.6 M251.62 503.9 V509.6 M254.92 503.9 V509.6 M258.22 503.9 V509.6 M261.52 503.9 V509.6 M264.82 503.9 V509.6 M268.12 503.9 V509.6 M271.43 503.9 V509.6 M274.73 503.9 V509.6 M278.03 503.9 V509.6 M281.33 503.9 V509.6 M284.63 503.9 V509.6 M287.93 503.9 V509.6 M291.23 503.9 V509.6 M294.53 503.9 V509.6 M297.83 503.9 V509.6 M301.13 503.9 V509.6 M304.43 503.9 V509.6 M307.73 503.9 V509.6 M311.04 503.9 V509.6 M314.34 503.9 V509.6 M317.64 503.9 V509.6 M320.94 503.9 V509.6 M324.24 503.9 V509.6 M327.54 503.9 V509.6 M330.84 503.9 V509.6 M334.14 503.9 V509.6 M337.44 503.9 V509.6 M340.74 503.9 V509.6 M344.04 503.9 V509.6 M347.34 503.9 V509.6 M350.65 503.9 V509.6 M353.95 503.9 V509.6 M357.25 503.9 V509.6 M360.55 503.9 V509.6 M363.85 503.9 V509.6 M367.15 503.9 V509.6 M370.45 503.9 V509.6 M373.75 503.9 V509.6 M377.05 503.9 V509.6 M380.35 503.9 V509.6 M383.65 503.9 V509.6 M386.95 503.9 V509.6 M390.25 503.9 V509.6 M393.56 503.9 V509.6 M396.86 503.9 V509.6 M400.16 503.9 V509.6 M403.46 503.9 V509.6 M406.76 503.9 V509.6 M410.06 503.9 V509.6 M413.36 503.9 V509.6 M416.66 503.9 V509.6 M419.96 503.9 V509.6 M423.26 503.9 V509.6 M426.56 503.9 V509.6 M429.86 503.9 V509.6 M433.17 503.9 V509.6 M436.47 503.9 V509.6 M439.77 503.9 V509.6 M443.07 503.9 V509.6 M446.37 503.9 V509.6 M449.67 503.9 V509.6 M452.97 503.9 V509.6 M456.27 503.9 V509.6 M459.57 503.9 V509.6 M462.87 503.9 V509.6 M466.17 503.9 V509.6 M469.47 503.9 V509.6 M472.78 503.9 V509.6 M476.08 503.9 V509.6 M479.38 503.9 V509.6 M482.68 503.9 V509.6 M485.98 503.9 V509.6 M489.28 503.9 V509.6 M492.58 503.9 V509.6 M495.88 503.9 V509.6 M499.18 503.9 V509.6 M502.48 503.9 V509.6 M505.78 503.9 V509.6 M509.08 503.9 V509.6 M512.39 503.9 V509.6 M515.69 503.9 V509.6 M518.99 503.9 V509.6 M522.29 503.9 V509.6 M525.59 503.9 V509.6 M528.89 503.9 V509.6 M532.19 503.9 V509.6 M535.49 503.9 V509.6 M538.79 503.9 V509.6 M542.09 503.9 V509.6 M545.39 503.9 V509.6 M548.69 503.9 V509.6 M552.00 503.9 V509.6 M555.30 503.9 V509.6 M558.60 503.9 V509.6 M561.90 503.9 V509.6 M565.20 503.9 V509.6 M568.50 503.9 V509.6 M571.80 503.9 V509.6 M575.10 503.9 V509.6 M578.40 503.9 V509.6 M581.70 503.9 V509.6 M585.00 503.9 V509.6 M588.30 503.9 V509.6 M591.60 503.9 V509.6 M594.91 503.9 V509.6 M598.21 503.9 V509.6 M601.51 503.9 V509.6 M604.81 503.9 V509.6 M608.11 503.9 V509.6 M611.41 503.9 V509.6 M614.71 503.9 V509.6 M618.01 503.9 V509.6 M621.31 503.9 V509.6 M624.61 503.9 V509.6 M627.91 503.9 V509.6 M631.21 503.9 V509.6 M634.52 503.9 V509.6 M637.82 503.9 V509.6 M641.12 503.9 V509.6 M644.42 503.9 V509.6 M647.72 503.9 V509.6 M651.02 503.9 V509.6 M654.32 503.9 V509.6 M657.62 503.9 V509.6 M660.92 503.9 V509.6 M664.22 503.9 V509.6 M667.52 503.9 V509.6 M670.82 503.9 V509.6 M674.13 503.9 V509.6 M677.43 503.9 V509.6 M680.73 503.9 V509.6 M684.03 503.9 V509.6 M687.33 503.9 V509.6 M690.63 503.9 V509.6 M693.93 503.9 V509.6 M697.23 503.9 V509.6 M700.53 503.9 V509.6 M703.83 503.9 V509.6 M707.13 503.9 V509.6 M710.43 503.9 V509.6 M713.74 503.9 V509.6 M717.04 503.9 V509.6 M720.34 503.9 V509.6 M723.64 503.9 V509.6 M726.94 503.9 V509.6 M730.24 503.9 V509.6 M733.54 503.9 V509.6 M736.84 503.9 V509.6 M740.14 503.9 V509.6 M743.44 503.9 V509.6 M746.74 503.9 V509.6 M750.04 503.9 V509.6 M753.35 503.9 V509.6 M756.65 503.9 V509.6 M759.95 503.9 V509.6 M763.25 503.9 V509.6 M766.55 503.9 V509.6 M769.85 503.9 V509.6 M773.15 503.9 V509.6 M776.45 503.9 V509.6 M779.75 503.9 V509.6 M783.05 503.9 V509.6 M786.35 503.9 V509.6 M789.65 503.9 V509.6 M792.95 503.9 V509.6 M796.26 503.9 V509.6 M799.56 503.9 V509.6 M802.86 503.9 V509.6 M806.16 503.9 V509.6 M809.46 503.9 V509.6 M812.76 503.9 V509.6 M816.06 503.9 V509.6 M819.36 503.9 V509.6 M822.66 503.9 V509.6 M825.96 503.9 V509.6 M829.26 503.9 V509.6 M832.56 503.9 V509.6 M835.87 503.9 V509.6 M839.17 503.9 V509.6 M842.47 503.9 V509.6 M845.77 503.9 V509.6 M849.07 503.9 V509.6 M852.37 503.9 V509.6 M855.67 503.9 V509.6 M858.97 503.9 V509.6 M862.27 503.9 V509.6 M865.57 503.9 V509.6 M868.87 503.9 V509.6 M872.17 503.9 V509.6 M875.48 503.9 V509.6 M878.78 503.9 V509.6 M882.08 503.9 V509.6 M885.38 503.9 V509.6 M888.68 503.9 V509.6 M891.98 503.9 V509.6 M895.28 503.9 V509.6 M898.58 503.9 V509.6 M901.88 503.9 V509.6 M905.18 503.9 V509.6 M908.48 503.9 V509.6 M911.78 503.9 V509.6 M915.09 503.9 V509.6 M918.39 503.9 V509.6 M921.69 503.9 V509.6 M924.99 503.9 V509.6 M928.29 503.9 V509.6 M931.59 503.9 V509.6 M934.89 503.9 V509.6 M938.19 503.9 V509.6 M941.49 503.9 V509.6 M944.79 503.9 V509.6 M948.09 503.9 V509.6 M951.39 503.9 V509.6 M954.70 503.9 V509.6 M958.00 503.9 V509.6 M961.30 503.9 V509.6 M964.60 503.9 V509.6 M967.90 503.9 V509.6 M971.20 503.9 V509.6 M974.50 503.9 V509.6 M169.10 503.9 V514.5 M271.43 503.9 V514.5 M370.45 503.9 V514.5 M472.78 503.9 V514.5 M575.10 503.9 V514.5 M674.13 503.9 V514.5 M776.45 503.9 V514.5 M875.48 503.9 V514.5 M974.50 503.9 V514.5" stroke="#5e5e5e" stroke-width="1" fill="none"/>
<text x="100.4" y="509.6" text-anchor="end" font-size="16.1">0</text>
<text x="100.4" y="465.7" text-anchor="end" font-size="16.1" textLength="60.0" lengthAdjust="spacingAndGlyphs">100,000</text>
<text x="100.4" y="421.8" text-anchor="end" font-size="16.1" textLength="60.0" lengthAdjust="spacingAndGlyphs">200,000</text>
<text x="100.4" y="377.9" text-anchor="end" font-size="16.1" textLength="60.0" lengthAdjust="spacingAndGlyphs">300,000</text>
<text x="100.4" y="334.0" text-anchor="end" font-size="16.1" textLength="60.0" lengthAdjust="spacingAndGlyphs">400,000</text>
<text x="100.4" y="290.1" text-anchor="end" font-size="16.1" textLength="60.0" lengthAdjust="spacingAndGlyphs">500,000</text>
<text x="100.4" y="246.1" text-anchor="end" font-size="16.1" textLength="60.0" lengthAdjust="spacingAndGlyphs">600,000</text>
<text x="100.4" y="202.2" text-anchor="end" font-size="16.1" textLength="60.0" lengthAdjust="spacingAndGlyphs">700,000</text>
<text x="100.4" y="158.3" text-anchor="end" font-size="16.1" textLength="60.0" lengthAdjust="spacingAndGlyphs">800,000</text>
<text x="100.4" y="114.4" text-anchor="end" font-size="16.1" textLength="60.0" lengthAdjust="spacingAndGlyphs">900,000</text>
<text x="100.4" y="70.5" text-anchor="end" font-size="16.1" textLength="73.2" lengthAdjust="spacingAndGlyphs">1,000,000</text>
<text x="169.1" y="529.6" text-anchor="middle" font-size="16.2" textLength="49.6" lengthAdjust="spacingAndGlyphs">May01</text>
<text x="271.4" y="529.6" text-anchor="middle" font-size="16.2">Jun 01</text>
<text x="370.4" y="529.6" text-anchor="middle" font-size="16.2">Jul 01</text>
<text x="472.8" y="529.6" text-anchor="middle" font-size="16.2">Aug 01</text>
<text x="575.1" y="529.6" text-anchor="middle" font-size="16.2">Sep 01</text>
<text x="674.1" y="529.6" text-anchor="middle" font-size="16.2">Oct 01</text>
<text x="776.5" y="529.6" text-anchor="middle" font-size="16.2">Nov 01</text>
<text x="875.5" y="529.6" text-anchor="middle" font-size="16.2">Dec 01</text>
<text x="974.5" y="529.6" text-anchor="middle" font-size="16.2">Dec 31</text>
<g transform="translate(23.3 284) rotate(-90)" font-size="16.4">
<text x="-81.1" y="0" textLength="23.1" lengthAdjust="spacingAndGlyphs">Sea</text>
<text x="-50.5" y="0" textLength="24.7" lengthAdjust="spacingAndGlyphs">Ice</text>
<text x="-19.1" y="0" textLength="51.1" lengthAdjust="spacingAndGlyphs">Extent</text>
<text x="37.8" y="0" textLength="42.1" lengthAdjust="spacingAndGlyphs">(km<tspan font-size="11.5" dy="-6">2</tspan><tspan dy="6">)</tspan></text>
</g>
<text x="544.5" y="24.2" text-anchor="middle" font-size="24.5" font-weight="bold" textLength="353.5" lengthAdjust="spacingAndGlyphs">Chukchi Sea Daily Ice Extent</text>
<text x="544.5" y="55.4" text-anchor="middle" font-size="24.5" font-weight="bold" textLength="127" lengthAdjust="spacingAndGlyphs">2006-2021</text>
<rect x="125.8" y="412.6" width="188.6" height="73.4" fill="#fff" stroke="#555" stroke-width="1"/>
<rect x="136.6" y="418.4" width="16.4" height="16.2" rx="3" ry="3" fill="#0303f2"/>
<text x="164" y="432.4" font-size="16.2">2021</text>
<rect x="136.6" y="441.0" width="16.4" height="16.2" rx="3" ry="3" fill="#3a7d22"/>
<text x="164" y="455.0" font-size="16.2">2020</text>
<rect x="136.6" y="463.7" width="16.4" height="16.2" rx="3" ry="3" fill="#3a3a3a"/>
<text x="164" y="477.7" font-size="16.2" textLength="141.8" lengthAdjust="spacingAndGlyphs">2006-2020 Median</text>
<text x="645.8" y="567.3" font-size="15" font-style="italic" textLength="182.6" lengthAdjust="spacingAndGlyphs">Data source: NSIDC/MASIE</text>
<text x="645.8" y="587.6" font-size="15" font-style="italic" textLength="240.7" lengthAdjust="spacingAndGlyphs">Updated through October 23, 2021</text>
<defs>
<linearGradient id="sung" x1="0" y1="0" x2="0" y2="1"><stop offset="0" stop-color="#f9e04f"/><stop offset="1" stop-color="#f2b02c"/></linearGradient>
<linearGradient id="snowg" gradientUnits="userSpaceOnUse" x1="0" y1="543" x2="0" y2="590"><stop offset="0" stop-color="#7f96d6"/><stop offset="0.55" stop-color="#5a71b0"/><stop offset="1" stop-color="#15264d"/></linearGradient>
<clipPath id="sunc"><polygon points="0,530 51.2,530 24.3,596 0,596"/></clipPath>
<clipPath id="snowc"><polygon points="52.4,530 80,530 80,596 25.5,596"/></clipPath>
</defs>
<g clip-path="url(#sunc)">
<path d="M44.5 563.6 Q48.4 562.3 59.2 560.3 Q49.4 571.3 43.6 569.6 Z M44.0 568.4 Q48.1 569.0 54.3 570.7 Q45.1 577.5 40.6 573.5 Z M41.5 572.6 Q44.9 574.9 53.2 582.1 Q38.5 581.3 36.2 575.7 Z M37.4 575.3 Q39.5 578.8 42.1 584.8 Q31.0 581.8 31.4 575.8 Z M32.6 576.0 Q32.9 580.0 32.4 591.0 Q23.9 579.0 26.9 573.7 Z M27.9 574.4 Q26.5 578.2 23.4 583.9 Q18.8 573.4 23.8 570.0 Z M24.4 571.0 Q21.5 573.8 12.6 580.3 Q16.6 566.2 22.6 565.2 Z M22.7 566.4 Q18.8 567.7 12.4 568.8 Q17.8 558.7 23.6 560.4 Z M23.2 561.6 Q19.1 561.0 8.5 558.1 Q22.1 552.5 26.6 556.5 Z M25.7 557.4 Q22.3 555.1 17.4 550.9 Q28.7 548.7 31.0 554.3 Z M29.8 554.7 Q27.7 551.2 23.4 541.1 Q36.2 548.2 35.8 554.2 Z M34.6 554.0 Q34.3 550.0 34.6 543.5 Q43.3 551.0 40.3 556.3 Z M39.3 555.6 Q40.7 551.8 45.9 542.1 Q48.4 556.6 43.4 560.0 Z M42.8 559.0 Q45.7 556.2 51.0 552.4 Q50.6 563.8 44.6 564.8 Z" fill="url(#sung)"/>
<circle cx="33.6" cy="565.0" r="12.4" fill="url(#sung)"/>
<circle cx="33.6" cy="565.0" r="9.8" fill="none" stroke="#fcec96" stroke-width="1.0"/>
</g>
<g clip-path="url(#snowc)"><path d="M44.6 566.2 L45.9 542.2 M45.0 558.1 L39.4 553.1 M45.0 558.1 L51.2 553.7 M45.3 552.3 L40.0 547.7 M45.3 552.3 L51.1 548.3 M45.6 547.0 L42.1 544.0 M45.6 547.0 L49.4 544.4 M44.6 566.2 L62.9 561.0 M50.8 564.4 L53.6 557.5 M50.8 564.4 L56.9 568.8 M55.2 563.2 L57.8 556.7 M55.2 563.2 L60.9 567.3 M59.2 562.0 L60.9 557.7 M59.2 562.0 L62.9 564.7 M44.6 566.2 L56.3 584.9 M48.6 572.5 L56.0 573.3 M48.6 572.5 L46.0 579.6 M51.4 577.0 L58.3 577.8 M51.4 577.0 L49.0 583.6 M53.9 581.1 L58.5 581.6 M53.9 581.1 L52.4 585.4 M44.6 566.2 L30.7 589.3 M39.9 574.1 L42.6 581.1 M39.9 574.1 L32.4 575.0 M36.5 579.6 L39.0 586.2 M36.5 579.6 L29.6 580.5 M33.5 584.7 L35.1 589.0 M33.5 584.7 L28.9 585.3 M44.6 566.2 L27.7 560.0 M38.8 564.1 L32.5 568.1 M38.8 564.1 L36.5 557.0 M34.8 562.6 L28.9 566.3 M34.8 562.6 L32.6 556.0 M31.1 561.3 L27.2 563.7 M31.1 561.3 L29.6 556.9 M44.6 566.2 L27.2 561.5 M38.7 564.6 L32.7 569.1 M38.7 564.6 L35.8 557.7 M34.5 563.5 L28.9 567.7 M34.5 563.5 L31.8 557.1 M30.7 562.5 L27.0 565.2 M30.7 562.5 L28.9 558.2" stroke="url(#snowg)" stroke-width="2.7" stroke-linecap="round" fill="none"/>
<circle cx="44.6" cy="566.2" r="4.2" fill="#5d74b4"/></g>
<text x="65.4" y="570.3" font-size="41.6" font-weight="bold" textLength="94.6" lengthAdjust="spacingAndGlyphs" style="fill:#223761" stroke="#223761" stroke-width="1.7" stroke-linejoin="miter">ACCAP</text>
<text x="65.4" y="582.0" font-size="8.4" textLength="85" lengthAdjust="spacingAndGlyphs" style="fill:#6c6f78">Alaska Center for Climate</text>
<text x="65.4" y="590.3" font-size="8.4" textLength="76" lengthAdjust="spacingAndGlyphs" style="fill:#6c6f78">Assessment and Policy</text>
<polygon points="24.6,594.3 162.2,594.3 162.2,601.7 22.8,601.7" fill="#223761"/>
<text x="112.8" y="600.1" font-size="5.6" font-weight="bold" textLength="47.4" lengthAdjust="spacingAndGlyphs" style="fill:#fff"><tspan font-size="3.6">A </tspan>NOAA RISA<tspan font-size="3.6"> TEAM</tspan></text>
<g fill="#22519b">
<path d="M167.7 541.2 H177.4 V561.4 A1.5 1.5 0 0 0 180.4 561.4 V541.2 H192.0 L184.4 573 H171.5 Q167.7 573 167.7 569.2 Z"/>
<path d="M192.9 541.2 H207.7 L217.5 573 H185.2 Z"/>
<path d="M208.2 541.2 H234.3 V548.2 H222.1 V553.3 H231.4 V559.1 H222.1 V573 H218.0 Z"/>
</g>
<path d="M185.8 573 L191.4 566.5 Q192.6 558 195.6 554 Q198.4 550.6 201.4 551.2 Q203.4 551.8 204 553.6 L202.4 554.8 Q203.8 556.4 206 557.6 Q209.4 560 211 564.6 L214 573 Z" fill="#fff"/>
<path d="M186.2 566.4 H194 M185.7 568.5 H194 M185.2 570.6 H194 M184.7 572.6 H194 M209.5 566.4 H215.6 M209.5 568.5 H216.2 M209.5 570.6 H216.9 M209.5 572.6 H217.5" stroke="#fff" stroke-width="0.95" fill="none"/>
<path d="M197.6 565.5 Q198.6 568 197.4 570.6 M201.4 565 L202 570.4 M203.6 566.4 L205.4 570.6" stroke="#22519b" stroke-width="0.6" fill="none"/>
<text x="167.7" y="581.2" font-size="5.9" font-weight="bold" textLength="66" lengthAdjust="spacing" style="fill:#47527f">UNIVERSITY OF</text>
<text x="170.4" y="592.7" font-size="12.3" font-weight="bold" textLength="62.4" lengthAdjust="spacing" style="fill:#22519b">ALASKA</text>
<text x="168.2" y="600.8" font-size="6.4" font-weight="bold" textLength="65.6" lengthAdjust="spacing" style="fill:#47527f">FAIRBANKS</text>
</svg></body></html>
